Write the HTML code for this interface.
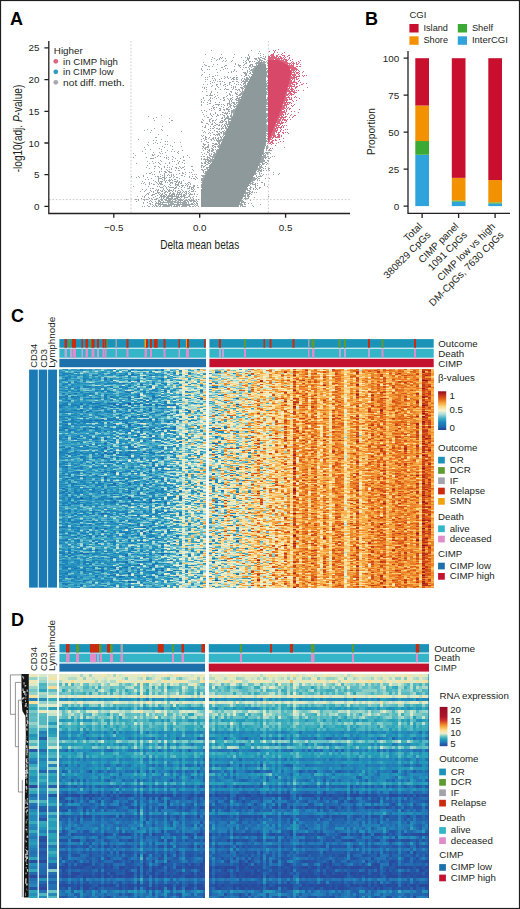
<!DOCTYPE html>
<html><head><meta charset="utf-8"><style>
html,body{margin:0;padding:0;background:#fff;}
svg{display:block;font-family:"Liberation Sans", sans-serif;}
</style></head><body>
<svg width="520" height="909" viewBox="0 0 520 909">
<rect width="520" height="909" fill="#fff"/>
<text x="10" y="25" font-size="18" font-weight="bold" fill="#000">A</text>
<g stroke="#c4c4c4" stroke-width="0.9" stroke-dasharray="1.6 1.8" fill="none"><path d="M131 41V213M268.4 41V213M49 199.6H350"/></g>
<path fill="#8e999b" d="M261 61h1v1h-1zM260 62h2v1h-2zM259 63h2v1h-2zM258 64h7v1h-7zM257 65h9v1h-9zM257 66h9v1h-9zM256 67h10v1h-10zM255 68h11v1h-11zM255 69h11v1h-11zM254 70h12v1h-12zM254 71h12v1h-12zM253 72h13v1h-13zM253 73h13v1h-13zM252 74h14v1h-14zM252 75h14v1h-14zM251 76h15v1h-15zM251 77h15v1h-15zM250 78h16v1h-16zM250 79h16v1h-16zM249 80h17v1h-17zM249 81h17v1h-17zM248 82h18v1h-18zM248 83h18v1h-18zM247 84h19v1h-19zM247 85h19v1h-19zM246 86h20v1h-20zM246 87h20v1h-20zM245 88h21v1h-21zM245 89h21v1h-21zM245 90h21v1h-21zM244 91h22v1h-22zM244 92h22v1h-22zM243 93h23v1h-23zM243 94h23v1h-23zM242 95h24v1h-24zM242 96h24v1h-24zM241 97h25v1h-25zM241 98h25v1h-25zM240 99h26v1h-26zM240 100h26v1h-26zM240 101h26v1h-26zM239 102h27v1h-27zM239 103h27v1h-27zM238 104h28v1h-28zM238 105h28v1h-28zM237 106h29v1h-29zM237 107h29v1h-29zM236 108h30v1h-30zM236 109h30v1h-30zM235 110h31v1h-31zM235 111h31v1h-31zM235 112h31v1h-31zM234 113h32v1h-32zM234 114h32v1h-32zM233 115h33v1h-33zM233 116h33v1h-33zM232 117h34v1h-34zM232 118h34v1h-34zM231 119h35v1h-35zM231 120h35v1h-35zM231 121h35v1h-35zM230 122h36v1h-36zM230 123h36v1h-36zM229 124h37v1h-37zM229 125h37v1h-37zM228 126h38v1h-38zM228 127h38v1h-38zM228 128h38v1h-38zM227 129h39v1h-39zM227 130h39v1h-39zM226 131h40v1h-40zM226 132h40v1h-40zM226 133h40v1h-40zM225 134h41v1h-41zM225 135h41v1h-41zM224 136h42v1h-42zM224 137h42v1h-42zM223 138h43v1h-43zM223 139h43v1h-43zM223 140h43v1h-43zM222 141h44v1h-44zM222 142h44v1h-44zM221 143h44v1h-44zM221 144h44v1h-44zM221 145h44v1h-44zM220 146h45v1h-45zM220 147h44v1h-44zM219 148h45v1h-45zM219 149h45v1h-45zM218 150h46v1h-46zM218 151h45v1h-45zM217 152h46v1h-46zM217 153h46v1h-46zM216 154h46v1h-46zM216 155h46v1h-46zM215 156h47v1h-47zM215 157h46v1h-46zM214 158h47v1h-47zM213 159h48v1h-48zM213 160h47v1h-47zM212 161h48v1h-48zM212 162h48v1h-48zM211 163h48v1h-48zM211 164h48v1h-48zM210 165h49v1h-49zM210 166h48v1h-48zM209 167h49v1h-49zM209 168h48v1h-48zM208 169h49v1h-49zM208 170h48v1h-48zM207 171h49v1h-49zM207 172h48v1h-48zM206 173h49v1h-49zM206 174h48v1h-48zM205 175h49v1h-49zM205 176h48v1h-48zM205 177h48v1h-48zM204 178h48v1h-48zM204 179h48v1h-48zM203 180h48v1h-48zM203 181h48v1h-48zM203 182h47v1h-47zM203 183h47v1h-47zM202 184h47v1h-47zM202 185h47v1h-47zM202 186h46v1h-46zM202 187h45v1h-45zM202 188h45v1h-45zM201 189h45v1h-45zM201 190h45v1h-45zM201 191h44v1h-44zM201 192h44v1h-44zM201 193h43v1h-43zM201 194h43v1h-43zM201 195h42v1h-42zM201 196h42v1h-42zM201 197h41v1h-41zM201 198h41v1h-41zM201 199h40v1h-40zM201 200h40v1h-40zM201 201h39v1h-39zM201 202h39v1h-39zM201 203h38v1h-38zM201 204h38v1h-38zM201 205h37v1h-37zM201 206h37v1h-37z"/>
<path fill="#8e999b" fill-opacity="0.88" d="M211 50h1v1h-1zM251 50h1v1h-1zM259 51h1v1h-1zM258 53h1v1h-1zM260 53h1v1h-1zM205 54h1v1h-1zM221 54h1v1h-1zM234 54h1v1h-1zM248 54h1v1h-1zM263 54h1v1h-1zM248 55h1v1h-1zM260 55h1v1h-1zM249 56h1v1h-1zM263 56h1v1h-1zM265 56h1v1h-1zM212 57h1v1h-1zM220 57h1v1h-1zM222 57h1v1h-1zM233 57h1v1h-1zM241 57h1v1h-1zM245 57h1v1h-1zM247 57h1v1h-1zM249 57h1v1h-1zM258 57h1v1h-1zM260 57h2v1h-2zM265 57h1v1h-1zM214 58h1v1h-1zM219 58h1v1h-1zM221 58h1v1h-1zM225 58h1v1h-1zM247 58h3v1h-3zM254 58h3v1h-3zM258 58h2v1h-2zM262 58h3v1h-3zM211 59h1v1h-1zM217 59h1v1h-1zM219 59h1v1h-1zM247 59h2v1h-2zM255 59h2v1h-2zM259 59h2v1h-2zM264 59h2v1h-2zM216 60h1v1h-1zM223 60h1v1h-1zM226 60h1v1h-1zM232 60h1v1h-1zM243 60h1v1h-1zM246 60h1v1h-1zM248 60h1v1h-1zM257 60h1v1h-1zM259 60h4v1h-4zM267 60h1v1h-1zM211 61h1v1h-1zM222 61h1v1h-1zM225 61h1v1h-1zM231 61h1v1h-1zM245 61h1v1h-1zM249 61h2v1h-2zM252 61h1v1h-1zM254 61h1v1h-1zM258 61h2v1h-2zM263 61h2v1h-2zM266 61h1v1h-1zM203 62h1v1h-1zM243 62h1v1h-1zM246 62h1v1h-1zM249 62h1v1h-1zM256 62h4v1h-4zM262 62h4v1h-4zM267 62h1v1h-1zM235 63h1v1h-1zM245 63h2v1h-2zM255 63h4v1h-4zM261 63h4v1h-4zM267 63h1v1h-1zM204 64h1v1h-1zM213 64h1v1h-1zM217 64h1v1h-1zM235 64h1v1h-1zM238 64h1v1h-1zM244 64h1v1h-1zM250 64h3v1h-3zM256 64h1v1h-1zM265 64h1v1h-1zM205 65h2v1h-2zM225 65h2v1h-2zM238 65h3v1h-3zM243 65h1v1h-1zM249 65h2v1h-2zM252 65h1v1h-1zM256 65h1v1h-1zM267 65h1v1h-1zM202 66h1v1h-1zM208 66h2v1h-2zM212 66h1v1h-1zM224 66h1v1h-1zM234 66h1v1h-1zM239 66h1v1h-1zM249 66h2v1h-2zM252 66h5v1h-5zM221 67h2v1h-2zM240 67h1v1h-1zM243 67h1v1h-1zM245 67h2v1h-2zM248 67h1v1h-1zM251 67h1v1h-1zM254 67h2v1h-2zM201 68h1v1h-1zM225 68h1v1h-1zM227 68h1v1h-1zM249 68h1v1h-1zM253 68h2v1h-2zM266 68h2v1h-2zM201 69h1v1h-1zM207 69h1v1h-1zM209 69h1v1h-1zM216 69h1v1h-1zM223 69h1v1h-1zM234 69h1v1h-1zM242 69h1v1h-1zM249 69h1v1h-1zM251 69h4v1h-4zM266 69h1v1h-1zM202 70h1v1h-1zM220 70h1v1h-1zM234 70h1v1h-1zM247 70h1v1h-1zM250 70h4v1h-4zM267 70h1v1h-1zM231 71h1v1h-1zM233 71h1v1h-1zM236 71h1v1h-1zM247 71h1v1h-1zM249 71h1v1h-1zM252 71h2v1h-2zM266 71h2v1h-2zM204 72h1v1h-1zM217 72h1v1h-1zM228 72h1v1h-1zM231 72h1v1h-1zM243 72h3v1h-3zM247 72h1v1h-1zM250 72h1v1h-1zM252 72h1v1h-1zM266 72h2v1h-2zM244 73h3v1h-3zM249 73h2v1h-2zM266 73h1v1h-1zM202 74h1v1h-1zM209 74h1v1h-1zM245 74h2v1h-2zM251 74h1v1h-1zM266 74h1v1h-1zM201 75h1v1h-1zM215 75h1v1h-1zM217 75h1v1h-1zM236 75h1v1h-1zM241 75h1v1h-1zM245 75h2v1h-2zM248 75h1v1h-1zM266 75h2v1h-2zM209 76h1v1h-1zM212 76h2v1h-2zM224 76h1v1h-1zM227 76h1v1h-1zM244 76h1v1h-1zM249 76h1v1h-1zM266 76h2v1h-2zM205 77h1v1h-1zM207 77h1v1h-1zM225 77h1v1h-1zM227 77h1v1h-1zM230 77h1v1h-1zM233 77h2v1h-2zM236 77h2v1h-2zM246 77h2v1h-2zM249 77h2v1h-2zM267 77h1v1h-1zM212 78h1v1h-1zM214 78h1v1h-1zM221 78h1v1h-1zM224 78h1v1h-1zM228 78h1v1h-1zM232 78h2v1h-2zM236 78h1v1h-1zM242 78h1v1h-1zM244 78h1v1h-1zM246 78h3v1h-3zM205 79h1v1h-1zM207 79h1v1h-1zM215 79h1v1h-1zM219 79h1v1h-1zM231 79h1v1h-1zM233 79h2v1h-2zM236 79h2v1h-2zM241 79h1v1h-1zM244 79h6v1h-6zM213 80h1v1h-1zM215 80h1v1h-1zM241 80h1v1h-1zM243 80h1v1h-1zM245 80h3v1h-3zM267 80h1v1h-1zM205 81h1v1h-1zM210 81h1v1h-1zM217 81h1v1h-1zM219 81h2v1h-2zM222 81h1v1h-1zM232 81h2v1h-2zM236 81h2v1h-2zM242 81h7v1h-7zM266 81h1v1h-1zM212 82h1v1h-1zM214 82h1v1h-1zM224 82h1v1h-1zM229 82h2v1h-2zM238 82h1v1h-1zM241 82h1v1h-1zM244 82h2v1h-2zM267 82h1v1h-1zM210 83h1v1h-1zM220 83h1v1h-1zM229 83h1v1h-1zM234 83h1v1h-1zM243 83h3v1h-3zM247 83h1v1h-1zM266 83h2v1h-2zM203 84h1v1h-1zM207 84h1v1h-1zM216 84h2v1h-2zM220 84h1v1h-1zM224 84h2v1h-2zM229 84h1v1h-1zM236 84h1v1h-1zM238 84h1v1h-1zM240 84h1v1h-1zM243 84h1v1h-1zM245 84h1v1h-1zM266 84h1v1h-1zM212 85h1v1h-1zM216 85h1v1h-1zM223 85h1v1h-1zM227 85h1v1h-1zM231 85h1v1h-1zM241 85h1v1h-1zM244 85h3v1h-3zM266 85h2v1h-2zM211 86h1v1h-1zM217 86h1v1h-1zM225 86h1v1h-1zM233 86h1v1h-1zM235 86h1v1h-1zM243 86h3v1h-3zM266 86h2v1h-2zM202 87h1v1h-1zM204 87h1v1h-1zM206 87h1v1h-1zM218 87h1v1h-1zM231 87h1v1h-1zM233 87h1v1h-1zM235 87h1v1h-1zM240 87h3v1h-3zM244 87h2v1h-2zM267 87h1v1h-1zM204 88h1v1h-1zM215 88h1v1h-1zM225 88h1v1h-1zM233 88h1v1h-1zM241 88h3v1h-3zM266 88h2v1h-2zM206 89h1v1h-1zM215 89h1v1h-1zM220 89h1v1h-1zM224 89h1v1h-1zM226 89h3v1h-3zM232 89h1v1h-1zM235 89h2v1h-2zM238 89h2v1h-2zM242 89h1v1h-1zM244 89h1v1h-1zM266 89h2v1h-2zM237 90h1v1h-1zM239 90h1v1h-1zM242 90h1v1h-1zM244 90h1v1h-1zM267 90h1v1h-1zM202 91h1v1h-1zM206 91h1v1h-1zM211 91h1v1h-1zM230 91h2v1h-2zM240 91h1v1h-1zM242 91h2v1h-2zM266 91h1v1h-1zM211 92h1v1h-1zM217 92h1v1h-1zM226 92h1v1h-1zM231 92h1v1h-1zM235 92h1v1h-1zM237 92h1v1h-1zM241 92h3v1h-3zM266 92h2v1h-2zM210 93h1v1h-1zM229 93h1v1h-1zM235 93h2v1h-2zM240 93h3v1h-3zM266 93h1v1h-1zM210 94h1v1h-1zM214 94h1v1h-1zM229 94h2v1h-2zM236 94h2v1h-2zM239 94h4v1h-4zM266 94h2v1h-2zM206 95h2v1h-2zM209 95h4v1h-4zM217 95h1v1h-1zM227 95h1v1h-1zM230 95h1v1h-1zM232 95h1v1h-1zM238 95h3v1h-3zM215 96h1v1h-1zM226 96h1v1h-1zM236 96h2v1h-2zM241 96h1v1h-1zM203 97h1v1h-1zM210 97h1v1h-1zM214 97h1v1h-1zM218 97h1v1h-1zM223 97h2v1h-2zM232 97h1v1h-1zM237 97h1v1h-1zM239 97h2v1h-2zM267 97h1v1h-1zM203 98h1v1h-1zM210 98h1v1h-1zM212 98h1v1h-1zM216 98h1v1h-1zM223 98h1v1h-1zM227 98h1v1h-1zM230 98h2v1h-2zM236 98h4v1h-4zM267 98h1v1h-1zM201 99h1v1h-1zM209 99h1v1h-1zM220 99h1v1h-1zM224 99h1v1h-1zM228 99h1v1h-1zM230 99h1v1h-1zM232 99h1v1h-1zM235 99h2v1h-2zM238 99h2v1h-2zM266 99h2v1h-2zM204 100h1v1h-1zM208 100h1v1h-1zM210 100h1v1h-1zM223 100h2v1h-2zM229 100h1v1h-1zM231 100h1v1h-1zM236 100h4v1h-4zM266 100h2v1h-2zM201 101h1v1h-1zM210 101h1v1h-1zM229 101h1v1h-1zM231 101h1v1h-1zM238 101h2v1h-2zM266 101h1v1h-1zM201 102h1v1h-1zM203 102h1v1h-1zM207 102h1v1h-1zM215 102h1v1h-1zM219 102h1v1h-1zM229 102h1v1h-1zM232 102h3v1h-3zM236 102h3v1h-3zM266 102h2v1h-2zM209 103h2v1h-2zM227 103h3v1h-3zM231 103h1v1h-1zM233 103h2v1h-2zM236 103h1v1h-1zM238 103h1v1h-1zM266 103h2v1h-2zM201 104h1v1h-1zM207 104h1v1h-1zM215 104h5v1h-5zM221 104h1v1h-1zM223 104h1v1h-1zM227 104h1v1h-1zM229 104h2v1h-2zM234 104h2v1h-2zM237 104h1v1h-1zM266 104h2v1h-2zM201 105h1v1h-1zM213 105h1v1h-1zM218 105h1v1h-1zM224 105h1v1h-1zM227 105h1v1h-1zM230 105h2v1h-2zM233 105h1v1h-1zM236 105h2v1h-2zM212 106h1v1h-1zM221 106h1v1h-1zM229 106h2v1h-2zM233 106h4v1h-4zM266 106h2v1h-2zM213 107h2v1h-2zM216 107h1v1h-1zM223 107h1v1h-1zM228 107h1v1h-1zM230 107h1v1h-1zM234 107h1v1h-1zM236 107h1v1h-1zM211 108h1v1h-1zM213 108h1v1h-1zM219 108h2v1h-2zM226 108h2v1h-2zM231 108h1v1h-1zM235 108h1v1h-1zM266 108h2v1h-2zM209 109h1v1h-1zM214 109h1v1h-1zM220 109h1v1h-1zM223 109h2v1h-2zM226 109h4v1h-4zM233 109h3v1h-3zM266 109h2v1h-2zM201 110h1v1h-1zM204 110h1v1h-1zM211 110h1v1h-1zM219 110h2v1h-2zM224 110h1v1h-1zM228 110h1v1h-1zM231 110h4v1h-4zM266 110h2v1h-2zM206 111h1v1h-1zM228 111h2v1h-2zM231 111h4v1h-4zM202 112h1v1h-1zM215 112h1v1h-1zM222 112h2v1h-2zM225 112h1v1h-1zM227 112h1v1h-1zM231 112h4v1h-4zM210 113h1v1h-1zM215 113h1v1h-1zM224 113h4v1h-4zM229 113h1v1h-1zM231 113h1v1h-1zM233 113h1v1h-1zM266 113h2v1h-2zM203 114h1v1h-1zM210 114h1v1h-1zM213 114h1v1h-1zM217 114h1v1h-1zM220 114h1v1h-1zM222 114h1v1h-1zM226 114h1v1h-1zM231 114h1v1h-1zM233 114h1v1h-1zM266 114h2v1h-2zM161 115h1v1h-1zM206 115h1v1h-1zM211 115h1v1h-1zM217 115h2v1h-2zM223 115h2v1h-2zM227 115h1v1h-1zM230 115h2v1h-2zM266 115h2v1h-2zM148 116h1v1h-1zM204 116h1v1h-1zM212 116h1v1h-1zM216 116h1v1h-1zM224 116h1v1h-1zM227 116h2v1h-2zM230 116h3v1h-3zM266 116h2v1h-2zM156 117h1v1h-1zM207 117h2v1h-2zM222 117h1v1h-1zM224 117h1v1h-1zM226 117h3v1h-3zM231 117h1v1h-1zM266 117h1v1h-1zM153 118h1v1h-1zM169 118h1v1h-1zM211 118h1v1h-1zM221 118h2v1h-2zM225 118h7v1h-7zM267 118h1v1h-1zM202 119h1v1h-1zM209 119h2v1h-2zM216 119h1v1h-1zM224 119h2v1h-2zM228 119h3v1h-3zM266 119h2v1h-2zM154 120h1v1h-1zM171 120h2v1h-2zM203 120h1v1h-1zM209 120h1v1h-1zM212 120h2v1h-2zM215 120h1v1h-1zM221 120h2v1h-2zM224 120h1v1h-1zM228 120h1v1h-1zM266 120h2v1h-2zM201 121h1v1h-1zM209 121h1v1h-1zM212 121h1v1h-1zM220 121h1v1h-1zM222 121h2v1h-2zM225 121h2v1h-2zM228 121h3v1h-3zM266 121h2v1h-2zM169 122h1v1h-1zM201 122h2v1h-2zM210 122h1v1h-1zM214 122h1v1h-1zM219 122h4v1h-4zM226 122h1v1h-1zM228 122h2v1h-2zM266 122h1v1h-1zM206 123h2v1h-2zM212 123h1v1h-1zM215 123h1v1h-1zM225 123h2v1h-2zM228 123h2v1h-2zM208 124h1v1h-1zM211 124h2v1h-2zM216 124h2v1h-2zM219 124h1v1h-1zM222 124h1v1h-1zM224 124h1v1h-1zM226 124h3v1h-3zM266 124h1v1h-1zM205 125h1v1h-1zM214 125h2v1h-2zM218 125h2v1h-2zM221 125h1v1h-1zM224 125h2v1h-2zM227 125h1v1h-1zM266 125h2v1h-2zM162 126h1v1h-1zM202 126h1v1h-1zM205 126h1v1h-1zM210 126h1v1h-1zM213 126h1v1h-1zM221 126h1v1h-1zM223 126h1v1h-1zM225 126h1v1h-1zM227 126h1v1h-1zM266 126h2v1h-2zM204 127h2v1h-2zM214 127h1v1h-1zM222 127h1v1h-1zM225 127h2v1h-2zM266 127h2v1h-2zM154 128h1v1h-1zM210 128h1v1h-1zM212 128h2v1h-2zM216 128h2v1h-2zM219 128h1v1h-1zM221 128h3v1h-3zM225 128h3v1h-3zM266 128h2v1h-2zM147 129h1v1h-1zM161 129h1v1h-1zM208 129h1v1h-1zM218 129h2v1h-2zM221 129h1v1h-1zM226 129h1v1h-1zM266 129h2v1h-2zM144 130h1v1h-1zM151 130h1v1h-1zM162 130h1v1h-1zM202 130h1v1h-1zM210 130h1v1h-1zM214 130h1v1h-1zM224 130h1v1h-1zM226 130h1v1h-1zM266 130h2v1h-2zM181 131h1v1h-1zM204 131h1v1h-1zM216 131h2v1h-2zM219 131h1v1h-1zM222 131h2v1h-2zM225 131h1v1h-1zM266 131h2v1h-2zM150 132h1v1h-1zM203 132h1v1h-1zM205 132h1v1h-1zM209 132h1v1h-1zM212 132h1v1h-1zM217 132h1v1h-1zM220 132h2v1h-2zM223 132h3v1h-3zM208 133h1v1h-1zM210 133h1v1h-1zM218 133h2v1h-2zM221 133h1v1h-1zM223 133h3v1h-3zM266 133h2v1h-2zM158 134h1v1h-1zM213 134h2v1h-2zM216 134h4v1h-4zM223 134h2v1h-2zM267 134h1v1h-1zM167 135h1v1h-1zM201 135h1v1h-1zM203 135h1v1h-1zM210 135h1v1h-1zM215 135h1v1h-1zM217 135h1v1h-1zM219 135h1v1h-1zM223 135h1v1h-1zM266 135h1v1h-1zM202 136h1v1h-1zM205 136h1v1h-1zM220 136h1v1h-1zM222 136h1v1h-1zM267 136h1v1h-1zM155 137h2v1h-2zM205 137h2v1h-2zM209 137h1v1h-1zM213 137h1v1h-1zM215 137h1v1h-1zM218 137h1v1h-1zM220 137h2v1h-2zM223 137h1v1h-1zM203 138h1v1h-1zM205 138h1v1h-1zM208 138h1v1h-1zM212 138h2v1h-2zM215 138h1v1h-1zM217 138h2v1h-2zM221 138h1v1h-1zM266 138h2v1h-2zM138 139h1v1h-1zM161 139h1v1h-1zM201 139h1v1h-1zM205 139h2v1h-2zM210 139h2v1h-2zM213 139h1v1h-1zM216 139h1v1h-1zM218 139h1v1h-1zM220 139h3v1h-3zM267 139h1v1h-1zM153 140h1v1h-1zM156 140h1v1h-1zM204 140h1v1h-1zM211 140h1v1h-1zM214 140h1v1h-1zM216 140h7v1h-7zM266 140h1v1h-1zM165 141h1v1h-1zM167 141h1v1h-1zM201 141h1v1h-1zM206 141h1v1h-1zM217 141h4v1h-4zM266 141h2v1h-2zM148 142h1v1h-1zM155 142h1v1h-1zM160 142h1v1h-1zM174 142h1v1h-1zM180 142h1v1h-1zM207 142h2v1h-2zM218 142h2v1h-2zM221 142h1v1h-1zM153 143h1v1h-1zM157 143h1v1h-1zM203 143h1v1h-1zM212 143h2v1h-2zM215 143h2v1h-2zM218 143h2v1h-2zM265 143h1v1h-1zM267 143h1v1h-1zM147 144h1v1h-1zM165 144h1v1h-1zM167 144h1v1h-1zM203 144h3v1h-3zM208 144h1v1h-1zM214 144h4v1h-4zM219 144h2v1h-2zM265 144h1v1h-1zM148 145h1v1h-1zM170 145h1v1h-1zM204 145h1v1h-1zM208 145h1v1h-1zM212 145h2v1h-2zM218 145h3v1h-3zM265 145h1v1h-1zM267 145h1v1h-1zM162 146h1v1h-1zM172 146h1v1h-1zM181 146h1v1h-1zM202 146h2v1h-2zM207 146h2v1h-2zM212 146h1v1h-1zM214 146h2v1h-2zM217 146h3v1h-3zM266 146h2v1h-2zM144 147h1v1h-1zM164 147h1v1h-1zM203 147h1v1h-1zM205 147h4v1h-4zM213 147h1v1h-1zM215 147h1v1h-1zM218 147h2v1h-2zM264 147h1v1h-1zM266 147h2v1h-2zM284 147h1v1h-1zM159 148h1v1h-1zM202 148h1v1h-1zM204 148h2v1h-2zM211 148h2v1h-2zM264 148h1v1h-1zM266 148h2v1h-2zM145 149h1v1h-1zM150 149h1v1h-1zM161 149h1v1h-1zM172 149h1v1h-1zM205 149h1v1h-1zM207 149h1v1h-1zM209 149h1v1h-1zM212 149h2v1h-2zM215 149h1v1h-1zM217 149h2v1h-2zM266 149h1v1h-1zM167 150h1v1h-1zM182 150h1v1h-1zM203 150h1v1h-1zM208 150h2v1h-2zM211 150h3v1h-3zM216 150h2v1h-2zM266 150h1v1h-1zM268 150h4v1h-4zM142 151h1v1h-1zM161 151h1v1h-1zM171 151h1v1h-1zM174 151h1v1h-1zM178 151h1v1h-1zM207 151h1v1h-1zM209 151h1v1h-1zM211 151h2v1h-2zM216 151h2v1h-2zM263 151h1v1h-1zM153 152h1v1h-1zM159 152h1v1h-1zM165 152h1v1h-1zM177 152h1v1h-1zM201 152h1v1h-1zM207 152h2v1h-2zM213 152h2v1h-2zM216 152h1v1h-1zM263 152h1v1h-1zM265 152h5v1h-5zM133 153h1v1h-1zM145 153h1v1h-1zM160 153h1v1h-1zM162 153h1v1h-1zM178 153h1v1h-1zM204 153h1v1h-1zM209 153h1v1h-1zM211 153h1v1h-1zM214 153h3v1h-3zM263 153h2v1h-2zM266 153h2v1h-2zM270 153h1v1h-1zM152 154h1v1h-1zM154 154h1v1h-1zM202 154h1v1h-1zM206 154h1v1h-1zM209 154h1v1h-1zM211 154h1v1h-1zM213 154h3v1h-3zM262 154h2v1h-2zM265 154h1v1h-1zM267 154h1v1h-1zM135 155h1v1h-1zM152 155h2v1h-2zM158 155h1v1h-1zM166 155h1v1h-1zM187 155h1v1h-1zM209 155h2v1h-2zM213 155h3v1h-3zM263 155h3v1h-3zM157 156h1v1h-1zM160 156h1v1h-1zM172 156h1v1h-1zM183 156h1v1h-1zM201 156h1v1h-1zM203 156h2v1h-2zM207 156h1v1h-1zM210 156h5v1h-5zM262 156h4v1h-4zM267 156h2v1h-2zM272 156h1v1h-1zM274 156h1v1h-1zM133 157h1v1h-1zM146 157h1v1h-1zM155 157h1v1h-1zM164 157h1v1h-1zM166 157h1v1h-1zM168 157h1v1h-1zM173 157h1v1h-1zM183 157h1v1h-1zM189 157h1v1h-1zM207 157h3v1h-3zM212 157h3v1h-3zM261 157h6v1h-6zM270 157h1v1h-1zM150 158h4v1h-4zM166 158h1v1h-1zM175 158h1v1h-1zM180 158h1v1h-1zM201 158h1v1h-1zM204 158h1v1h-1zM207 158h1v1h-1zM209 158h2v1h-2zM212 158h1v1h-1zM261 158h3v1h-3zM265 158h1v1h-1zM268 158h2v1h-2zM168 159h1v1h-1zM172 159h1v1h-1zM201 159h1v1h-1zM203 159h6v1h-6zM210 159h3v1h-3zM261 159h3v1h-3zM160 160h1v1h-1zM177 160h1v1h-1zM183 160h2v1h-2zM205 160h1v1h-1zM207 160h6v1h-6zM260 160h5v1h-5zM267 160h2v1h-2zM147 161h1v1h-1zM152 161h1v1h-1zM161 161h1v1h-1zM172 161h1v1h-1zM174 161h1v1h-1zM179 161h1v1h-1zM205 161h2v1h-2zM208 161h4v1h-4zM260 161h5v1h-5zM268 161h1v1h-1zM155 162h1v1h-1zM158 162h1v1h-1zM169 162h1v1h-1zM178 162h1v1h-1zM182 162h1v1h-1zM201 162h1v1h-1zM204 162h2v1h-2zM207 162h2v1h-2zM210 162h1v1h-1zM260 162h3v1h-3zM265 162h2v1h-2zM136 163h1v1h-1zM149 163h1v1h-1zM153 163h1v1h-1zM159 163h1v1h-1zM165 163h1v1h-1zM169 163h1v1h-1zM178 163h1v1h-1zM184 163h1v1h-1zM201 163h2v1h-2zM204 163h2v1h-2zM208 163h2v1h-2zM259 163h1v1h-1zM262 163h3v1h-3zM267 163h1v1h-1zM160 164h1v1h-1zM176 164h1v1h-1zM206 164h2v1h-2zM210 164h1v1h-1zM259 164h2v1h-2zM262 164h2v1h-2zM266 164h1v1h-1zM147 165h1v1h-1zM167 165h1v1h-1zM201 165h2v1h-2zM205 165h1v1h-1zM209 165h1v1h-1zM259 165h1v1h-1zM261 165h1v1h-1zM154 166h2v1h-2zM158 166h1v1h-1zM164 166h1v1h-1zM172 166h1v1h-1zM179 166h1v1h-1zM184 166h1v1h-1zM191 166h2v1h-2zM201 166h1v1h-1zM203 166h2v1h-2zM209 166h1v1h-1zM259 166h3v1h-3zM265 166h1v1h-1zM146 167h1v1h-1zM159 167h1v1h-1zM164 167h1v1h-1zM167 167h1v1h-1zM169 167h1v1h-1zM175 167h2v1h-2zM180 167h1v1h-1zM182 167h2v1h-2zM201 167h1v1h-1zM203 167h1v1h-1zM206 167h3v1h-3zM259 167h4v1h-4zM149 168h1v1h-1zM154 168h1v1h-1zM161 168h1v1h-1zM171 168h1v1h-1zM176 168h1v1h-1zM178 168h1v1h-1zM181 168h1v1h-1zM206 168h2v1h-2zM257 168h4v1h-4zM263 168h1v1h-1zM265 168h1v1h-1zM268 168h2v1h-2zM161 169h1v1h-1zM166 169h1v1h-1zM169 169h1v1h-1zM171 169h1v1h-1zM184 169h1v1h-1zM192 169h1v1h-1zM201 169h2v1h-2zM204 169h2v1h-2zM207 169h1v1h-1zM257 169h3v1h-3zM261 169h1v1h-1zM268 169h1v1h-1zM167 170h1v1h-1zM175 170h1v1h-1zM178 170h2v1h-2zM193 170h1v1h-1zM202 170h2v1h-2zM207 170h1v1h-1zM256 170h1v1h-1zM258 170h4v1h-4zM263 170h1v1h-1zM266 170h1v1h-1zM269 170h1v1h-1zM154 171h1v1h-1zM159 171h1v1h-1zM161 171h1v1h-1zM164 171h2v1h-2zM168 171h2v1h-2zM203 171h1v1h-1zM205 171h2v1h-2zM257 171h2v1h-2zM260 171h2v1h-2zM151 172h1v1h-1zM159 172h1v1h-1zM165 172h2v1h-2zM169 172h3v1h-3zM182 172h1v1h-1zM185 172h1v1h-1zM189 172h1v1h-1zM191 172h1v1h-1zM203 172h1v1h-1zM205 172h2v1h-2zM255 172h1v1h-1zM259 172h1v1h-1zM273 172h1v1h-1zM146 173h1v1h-1zM149 173h2v1h-2zM164 173h1v1h-1zM179 173h1v1h-1zM182 173h2v1h-2zM204 173h2v1h-2zM255 173h2v1h-2zM259 173h1v1h-1zM261 173h1v1h-1zM279 173h1v1h-1zM152 174h1v1h-1zM154 174h1v1h-1zM160 174h1v1h-1zM164 174h1v1h-1zM168 174h1v1h-1zM171 174h1v1h-1zM173 174h1v1h-1zM176 174h1v1h-1zM185 174h1v1h-1zM192 174h1v1h-1zM194 174h1v1h-1zM196 174h1v1h-1zM205 174h1v1h-1zM254 174h2v1h-2zM259 174h1v1h-1zM263 174h1v1h-1zM266 174h1v1h-1zM273 174h1v1h-1zM278 174h1v1h-1zM143 175h1v1h-1zM162 175h1v1h-1zM164 175h1v1h-1zM167 175h1v1h-1zM169 175h1v1h-1zM171 175h1v1h-1zM173 175h1v1h-1zM181 175h2v1h-2zM201 175h4v1h-4zM256 175h1v1h-1zM260 175h1v1h-1zM262 175h1v1h-1zM131 176h1v1h-1zM138 176h1v1h-1zM143 176h1v1h-1zM155 176h1v1h-1zM157 176h2v1h-2zM160 176h1v1h-1zM164 176h1v1h-1zM171 176h1v1h-1zM174 176h1v1h-1zM184 176h1v1h-1zM189 176h1v1h-1zM192 176h1v1h-1zM195 176h1v1h-1zM202 176h3v1h-3zM256 176h1v1h-1zM258 176h4v1h-4zM136 177h1v1h-1zM139 177h1v1h-1zM147 177h1v1h-1zM158 177h1v1h-1zM162 177h3v1h-3zM166 177h1v1h-1zM169 177h2v1h-2zM173 177h1v1h-1zM176 177h2v1h-2zM189 177h1v1h-1zM196 177h1v1h-1zM203 177h2v1h-2zM253 177h2v1h-2zM257 177h1v1h-1zM151 178h1v1h-1zM158 178h4v1h-4zM164 178h2v1h-2zM179 178h1v1h-1zM191 178h1v1h-1zM193 178h2v1h-2zM197 178h1v1h-1zM201 178h3v1h-3zM252 178h5v1h-5zM258 178h2v1h-2zM265 178h1v1h-1zM269 178h1v1h-1zM145 179h1v1h-1zM148 179h1v1h-1zM158 179h1v1h-1zM162 179h1v1h-1zM164 179h1v1h-1zM169 179h1v1h-1zM171 179h1v1h-1zM174 179h2v1h-2zM195 179h1v1h-1zM201 179h3v1h-3zM252 179h4v1h-4zM257 179h1v1h-1zM153 180h1v1h-1zM158 180h1v1h-1zM164 180h1v1h-1zM166 180h1v1h-1zM168 180h3v1h-3zM172 180h1v1h-1zM177 180h1v1h-1zM183 180h1v1h-1zM201 180h2v1h-2zM251 180h4v1h-4zM257 180h1v1h-1zM259 180h1v1h-1zM142 181h1v1h-1zM155 181h1v1h-1zM158 181h1v1h-1zM160 181h3v1h-3zM165 181h1v1h-1zM169 181h1v1h-1zM174 181h4v1h-4zM179 181h1v1h-1zM181 181h1v1h-1zM202 181h1v1h-1zM251 181h2v1h-2zM144 182h1v1h-1zM149 182h1v1h-1zM156 182h1v1h-1zM159 182h1v1h-1zM161 182h1v1h-1zM165 182h1v1h-1zM167 182h1v1h-1zM170 182h3v1h-3zM176 182h1v1h-1zM178 182h2v1h-2zM181 182h1v1h-1zM188 182h2v1h-2zM201 182h2v1h-2zM250 182h1v1h-1zM252 182h2v1h-2zM261 182h2v1h-2zM141 183h1v1h-1zM143 183h1v1h-1zM149 183h1v1h-1zM151 183h1v1h-1zM157 183h1v1h-1zM159 183h3v1h-3zM170 183h1v1h-1zM172 183h1v1h-1zM175 183h1v1h-1zM178 183h1v1h-1zM180 183h2v1h-2zM185 183h1v1h-1zM187 183h1v1h-1zM190 183h1v1h-1zM202 183h1v1h-1zM250 183h3v1h-3zM255 183h1v1h-1zM257 183h1v1h-1zM264 183h1v1h-1zM145 184h1v1h-1zM149 184h1v1h-1zM153 184h2v1h-2zM158 184h1v1h-1zM160 184h3v1h-3zM169 184h1v1h-1zM175 184h4v1h-4zM186 184h1v1h-1zM188 184h1v1h-1zM190 184h1v1h-1zM201 184h1v1h-1zM250 184h1v1h-1zM252 184h4v1h-4zM264 184h1v1h-1zM164 185h1v1h-1zM170 185h1v1h-1zM175 185h1v1h-1zM177 185h2v1h-2zM181 185h3v1h-3zM185 185h1v1h-1zM187 185h1v1h-1zM193 185h2v1h-2zM197 185h1v1h-1zM201 185h1v1h-1zM249 185h1v1h-1zM255 185h1v1h-1zM257 185h1v1h-1zM264 185h1v1h-1zM133 186h1v1h-1zM148 186h1v1h-1zM157 186h1v1h-1zM159 186h1v1h-1zM163 186h1v1h-1zM165 186h1v1h-1zM168 186h1v1h-1zM176 186h1v1h-1zM179 186h1v1h-1zM182 186h1v1h-1zM187 186h1v1h-1zM189 186h2v1h-2zM193 186h2v1h-2zM201 186h1v1h-1zM250 186h1v1h-1zM255 186h1v1h-1zM267 186h1v1h-1zM160 187h3v1h-3zM166 187h1v1h-1zM169 187h5v1h-5zM175 187h2v1h-2zM181 187h1v1h-1zM184 187h1v1h-1zM189 187h1v1h-1zM191 187h3v1h-3zM197 187h2v1h-2zM201 187h1v1h-1zM250 187h2v1h-2zM255 187h1v1h-1zM259 187h2v1h-2zM150 188h1v1h-1zM152 188h2v1h-2zM163 188h1v1h-1zM166 188h1v1h-1zM174 188h2v1h-2zM178 188h1v1h-1zM187 188h3v1h-3zM191 188h1v1h-1zM193 188h1v1h-1zM247 188h1v1h-1zM249 188h2v1h-2zM253 188h1v1h-1zM256 188h1v1h-1zM259 188h1v1h-1zM142 189h1v1h-1zM146 189h1v1h-1zM156 189h1v1h-1zM158 189h1v1h-1zM163 189h1v1h-1zM167 189h1v1h-1zM169 189h1v1h-1zM173 189h1v1h-1zM181 189h1v1h-1zM191 189h2v1h-2zM194 189h1v1h-1zM246 189h2v1h-2zM250 189h1v1h-1zM253 189h1v1h-1zM255 189h1v1h-1zM257 189h1v1h-1zM145 190h1v1h-1zM150 190h1v1h-1zM155 190h1v1h-1zM157 190h2v1h-2zM160 190h1v1h-1zM162 190h1v1h-1zM164 190h1v1h-1zM168 190h4v1h-4zM173 190h1v1h-1zM175 190h1v1h-1zM178 190h2v1h-2zM182 190h1v1h-1zM189 190h1v1h-1zM193 190h1v1h-1zM247 190h3v1h-3zM140 191h1v1h-1zM144 191h1v1h-1zM151 191h1v1h-1zM153 191h1v1h-1zM157 191h1v1h-1zM161 191h2v1h-2zM165 191h2v1h-2zM168 191h2v1h-2zM172 191h1v1h-1zM175 191h1v1h-1zM177 191h1v1h-1zM180 191h1v1h-1zM183 191h1v1h-1zM185 191h2v1h-2zM188 191h1v1h-1zM191 191h3v1h-3zM195 191h1v1h-1zM245 191h1v1h-1zM249 191h2v1h-2zM252 191h1v1h-1zM149 192h1v1h-1zM153 192h1v1h-1zM157 192h3v1h-3zM164 192h2v1h-2zM167 192h1v1h-1zM170 192h1v1h-1zM173 192h1v1h-1zM177 192h4v1h-4zM182 192h1v1h-1zM184 192h1v1h-1zM186 192h1v1h-1zM189 192h1v1h-1zM245 192h5v1h-5zM251 192h2v1h-2zM254 192h1v1h-1zM256 192h1v1h-1zM147 193h2v1h-2zM155 193h2v1h-2zM158 193h1v1h-1zM160 193h1v1h-1zM162 193h1v1h-1zM164 193h1v1h-1zM169 193h2v1h-2zM172 193h3v1h-3zM177 193h1v1h-1zM179 193h1v1h-1zM181 193h1v1h-1zM185 193h2v1h-2zM188 193h1v1h-1zM190 193h1v1h-1zM194 193h1v1h-1zM244 193h4v1h-4zM249 193h2v1h-2zM146 194h1v1h-1zM148 194h1v1h-1zM152 194h3v1h-3zM159 194h1v1h-1zM161 194h2v1h-2zM165 194h2v1h-2zM169 194h1v1h-1zM171 194h4v1h-4zM176 194h6v1h-6zM183 194h2v1h-2zM186 194h1v1h-1zM189 194h4v1h-4zM194 194h1v1h-1zM197 194h1v1h-1zM245 194h1v1h-1zM247 194h3v1h-3zM251 194h1v1h-1zM145 195h1v1h-1zM151 195h2v1h-2zM157 195h1v1h-1zM160 195h2v1h-2zM163 195h2v1h-2zM166 195h1v1h-1zM168 195h5v1h-5zM174 195h1v1h-1zM176 195h1v1h-1zM178 195h1v1h-1zM181 195h1v1h-1zM183 195h3v1h-3zM189 195h1v1h-1zM243 195h3v1h-3zM247 195h2v1h-2zM137 196h1v1h-1zM142 196h1v1h-1zM144 196h1v1h-1zM155 196h1v1h-1zM160 196h6v1h-6zM167 196h12v1h-12zM180 196h5v1h-5zM188 196h2v1h-2zM193 196h1v1h-1zM196 196h1v1h-1zM243 196h3v1h-3zM247 196h3v1h-3zM268 196h1v1h-1zM144 197h1v1h-1zM148 197h1v1h-1zM153 197h1v1h-1zM159 197h1v1h-1zM161 197h1v1h-1zM163 197h2v1h-2zM166 197h3v1h-3zM171 197h2v1h-2zM176 197h4v1h-4zM181 197h1v1h-1zM184 197h4v1h-4zM190 197h1v1h-1zM192 197h1v1h-1zM242 197h1v1h-1zM245 197h1v1h-1zM248 197h1v1h-1zM254 197h1v1h-1zM141 198h1v1h-1zM149 198h1v1h-1zM151 198h1v1h-1zM156 198h2v1h-2zM161 198h1v1h-1zM163 198h1v1h-1zM166 198h7v1h-7zM174 198h4v1h-4zM180 198h1v1h-1zM184 198h1v1h-1zM190 198h1v1h-1zM193 198h1v1h-1zM242 198h1v1h-1zM244 198h5v1h-5zM126 199h1v1h-1zM135 199h2v1h-2zM138 199h1v1h-1zM143 199h2v1h-2zM146 199h2v1h-2zM152 199h1v1h-1zM154 199h3v1h-3zM160 199h3v1h-3zM164 199h3v1h-3zM168 199h4v1h-4zM173 199h3v1h-3zM177 199h5v1h-5zM183 199h1v1h-1zM186 199h1v1h-1zM188 199h2v1h-2zM191 199h1v1h-1zM193 199h1v1h-1zM196 199h1v1h-1zM198 199h1v1h-1zM241 199h1v1h-1zM245 199h1v1h-1zM138 200h1v1h-1zM144 200h1v1h-1zM150 200h1v1h-1zM158 200h2v1h-2zM161 200h2v1h-2zM165 200h6v1h-6zM172 200h1v1h-1zM175 200h2v1h-2zM178 200h5v1h-5zM184 200h4v1h-4zM189 200h6v1h-6zM196 200h1v1h-1zM241 200h2v1h-2zM250 200h1v1h-1zM136 201h1v1h-1zM149 201h1v1h-1zM151 201h1v1h-1zM155 201h1v1h-1zM158 201h3v1h-3zM163 201h1v1h-1zM167 201h9v1h-9zM177 201h2v1h-2zM180 201h1v1h-1zM183 201h3v1h-3zM187 201h2v1h-2zM190 201h2v1h-2zM193 201h3v1h-3zM197 201h1v1h-1zM240 201h4v1h-4zM143 202h1v1h-1zM147 202h1v1h-1zM152 202h1v1h-1zM156 202h1v1h-1zM158 202h1v1h-1zM160 202h13v1h-13zM174 202h13v1h-13zM188 202h1v1h-1zM193 202h1v1h-1zM196 202h1v1h-1zM241 202h5v1h-5zM143 203h1v1h-1zM149 203h2v1h-2zM155 203h6v1h-6zM162 203h1v1h-1zM168 203h1v1h-1zM170 203h4v1h-4zM177 203h2v1h-2zM180 203h1v1h-1zM182 203h5v1h-5zM188 203h1v1h-1zM191 203h2v1h-2zM194 203h1v1h-1zM196 203h2v1h-2zM239 203h3v1h-3zM244 203h1v1h-1zM248 203h1v1h-1zM251 203h1v1h-1zM150 204h1v1h-1zM152 204h1v1h-1zM155 204h1v1h-1zM158 204h9v1h-9zM168 204h26v1h-26zM195 204h1v1h-1zM197 204h1v1h-1zM239 204h4v1h-4zM244 204h2v1h-2zM260 204h1v1h-1zM147 205h1v1h-1zM153 205h1v1h-1zM155 205h2v1h-2zM158 205h1v1h-1zM160 205h1v1h-1zM163 205h9v1h-9zM174 205h1v1h-1zM176 205h4v1h-4zM182 205h8v1h-8zM194 205h1v1h-1zM196 205h2v1h-2zM238 205h1v1h-1zM240 205h3v1h-3zM252 205h1v1h-1zM142 206h1v1h-1zM144 206h1v1h-1zM148 206h2v1h-2zM152 206h1v1h-1zM154 206h1v1h-1zM156 206h2v1h-2zM159 206h2v1h-2zM162 206h8v1h-8zM171 206h1v1h-1zM173 206h5v1h-5zM179 206h1v1h-1zM181 206h6v1h-6zM189 206h2v1h-2zM192 206h2v1h-2zM195 206h1v1h-1zM198 206h1v1h-1zM238 206h1v1h-1zM240 206h1v1h-1zM242 206h4v1h-4zM253 206h1v1h-1z"/>
<path fill="#d84869" d="M268 60h11v1h-11zM268 61h13v1h-13zM268 62h15v1h-15zM268 63h17v1h-17zM268 64h19v1h-19zM268 65h20v1h-20zM268 66h21v1h-21zM268 67h22v1h-22zM268 68h22v1h-22zM268 69h22v1h-22zM268 70h23v1h-23zM268 71h23v1h-23zM268 72h23v1h-23zM268 73h23v1h-23zM268 74h23v1h-23zM268 75h23v1h-23zM268 76h22v1h-22zM268 77h22v1h-22zM268 78h22v1h-22zM268 79h22v1h-22zM268 80h21v1h-21zM268 81h21v1h-21zM268 82h21v1h-21zM268 83h21v1h-21zM268 84h20v1h-20zM268 85h20v1h-20zM268 86h20v1h-20zM268 87h19v1h-19zM268 88h19v1h-19zM268 89h19v1h-19zM268 90h19v1h-19zM268 91h18v1h-18zM268 92h18v1h-18zM268 93h18v1h-18zM268 94h17v1h-17zM268 95h17v1h-17zM268 96h17v1h-17zM268 97h17v1h-17zM268 98h16v1h-16zM268 99h16v1h-16zM268 100h16v1h-16zM268 101h15v1h-15zM268 102h15v1h-15zM268 103h15v1h-15zM268 104h14v1h-14zM268 105h14v1h-14zM268 106h14v1h-14zM268 107h14v1h-14zM268 108h13v1h-13zM268 109h13v1h-13zM268 110h13v1h-13zM268 111h12v1h-12zM268 112h12v1h-12zM268 113h11v1h-11zM268 114h11v1h-11zM268 115h11v1h-11zM268 116h10v1h-10zM268 117h10v1h-10zM268 118h9v1h-9zM268 119h9v1h-9zM268 120h9v1h-9zM268 121h8v1h-8zM268 122h8v1h-8zM268 123h7v1h-7zM268 124h7v1h-7zM268 125h7v1h-7zM268 126h6v1h-6zM268 127h6v1h-6zM268 128h5v1h-5zM268 129h5v1h-5zM268 130h5v1h-5zM268 131h4v1h-4zM268 132h4v1h-4zM268 133h3v1h-3zM268 134h3v1h-3zM268 135h3v1h-3zM268 136h2v1h-2zM268 137h2v1h-2zM268 138h1v1h-1zM268 139h1v1h-1z"/>
<path fill="#d84869" fill-opacity="0.85" d="M278 49h1v1h-1zM273 50h1v1h-1zM275 50h1v1h-1zM269 51h1v1h-1zM274 51h1v1h-1zM274 52h1v1h-1zM277 52h1v1h-1zM284 52h1v1h-1zM273 53h1v1h-1zM282 53h1v1h-1zM271 54h3v1h-3zM278 54h1v1h-1zM281 54h1v1h-1zM270 55h4v1h-4zM276 55h2v1h-2zM282 55h3v1h-3zM288 55h2v1h-2zM268 56h2v1h-2zM271 56h4v1h-4zM276 56h2v1h-2zM279 56h2v1h-2zM284 56h1v1h-1zM287 56h1v1h-1zM268 57h9v1h-9zM278 57h1v1h-1zM280 57h2v1h-2zM283 57h1v1h-1zM285 57h1v1h-1zM289 57h1v1h-1zM268 58h15v1h-15zM284 58h1v1h-1zM289 58h1v1h-1zM268 59h6v1h-6zM275 59h5v1h-5zM281 59h1v1h-1zM283 59h4v1h-4zM288 59h1v1h-1zM292 59h1v1h-1zM279 60h5v1h-5zM285 60h3v1h-3zM290 60h1v1h-1zM300 60h1v1h-1zM281 61h6v1h-6zM292 61h1v1h-1zM298 61h1v1h-1zM283 62h5v1h-5zM291 62h1v1h-1zM293 62h1v1h-1zM296 62h1v1h-1zM299 62h1v1h-1zM285 63h6v1h-6zM292 63h3v1h-3zM296 63h1v1h-1zM298 63h1v1h-1zM287 64h1v1h-1zM289 64h1v1h-1zM291 64h1v1h-1zM293 64h1v1h-1zM296 64h2v1h-2zM300 64h1v1h-1zM288 65h6v1h-6zM289 66h5v1h-5zM296 66h2v1h-2zM299 66h2v1h-2zM290 67h6v1h-6zM290 68h7v1h-7zM291 69h7v1h-7zM291 70h4v1h-4zM296 70h1v1h-1zM298 70h1v1h-1zM291 71h1v1h-1zM293 71h1v1h-1zM295 71h1v1h-1zM299 71h1v1h-1zM303 71h1v1h-1zM291 72h4v1h-4zM296 72h3v1h-3zM302 72h1v1h-1zM291 73h1v1h-1zM294 73h1v1h-1zM296 73h2v1h-2zM299 73h1v1h-1zM291 74h5v1h-5zM298 74h1v1h-1zM292 75h4v1h-4zM299 75h1v1h-1zM302 75h1v1h-1zM304 75h1v1h-1zM306 75h1v1h-1zM290 76h2v1h-2zM293 76h2v1h-2zM296 76h4v1h-4zM303 76h1v1h-1zM290 77h7v1h-7zM290 78h5v1h-5zM296 78h1v1h-1zM298 78h1v1h-1zM290 79h1v1h-1zM292 79h1v1h-1zM294 79h1v1h-1zM296 79h2v1h-2zM289 80h3v1h-3zM294 80h1v1h-1zM299 80h1v1h-1zM289 81h3v1h-3zM293 81h2v1h-2zM298 81h1v1h-1zM289 82h8v1h-8zM300 82h1v1h-1zM289 83h4v1h-4zM296 83h2v1h-2zM303 83h1v1h-1zM306 83h1v1h-1zM288 84h3v1h-3zM292 84h3v1h-3zM296 84h1v1h-1zM301 84h2v1h-2zM288 85h4v1h-4zM294 85h1v1h-1zM299 85h1v1h-1zM288 86h7v1h-7zM296 86h2v1h-2zM287 87h1v1h-1zM289 87h1v1h-1zM291 87h1v1h-1zM295 87h2v1h-2zM307 87h1v1h-1zM287 88h3v1h-3zM291 88h2v1h-2zM295 88h1v1h-1zM287 89h2v1h-2zM290 89h4v1h-4zM287 90h3v1h-3zM291 90h2v1h-2zM294 90h1v1h-1zM296 90h1v1h-1zM298 90h1v1h-1zM303 90h1v1h-1zM286 91h9v1h-9zM286 92h1v1h-1zM289 92h2v1h-2zM293 92h4v1h-4zM286 93h1v1h-1zM288 93h4v1h-4zM294 93h1v1h-1zM285 94h4v1h-4zM290 94h4v1h-4zM285 95h3v1h-3zM289 95h1v1h-1zM291 95h1v1h-1zM285 96h1v1h-1zM288 96h1v1h-1zM295 96h1v1h-1zM285 97h5v1h-5zM291 97h1v1h-1zM294 97h1v1h-1zM296 97h1v1h-1zM284 98h3v1h-3zM289 98h1v1h-1zM291 98h1v1h-1zM299 98h1v1h-1zM284 99h4v1h-4zM289 99h3v1h-3zM284 100h4v1h-4zM292 100h1v1h-1zM296 100h1v1h-1zM283 101h2v1h-2zM286 101h1v1h-1zM293 101h1v1h-1zM283 102h8v1h-8zM283 103h3v1h-3zM287 103h1v1h-1zM289 103h1v1h-1zM291 103h1v1h-1zM282 104h1v1h-1zM284 104h5v1h-5zM294 104h1v1h-1zM282 105h5v1h-5zM291 105h1v1h-1zM293 105h1v1h-1zM282 106h3v1h-3zM286 106h1v1h-1zM292 106h1v1h-1zM282 107h3v1h-3zM286 107h1v1h-1zM288 107h1v1h-1zM281 108h5v1h-5zM287 108h1v1h-1zM289 108h2v1h-2zM281 109h3v1h-3zM286 109h1v1h-1zM289 109h1v1h-1zM299 109h1v1h-1zM281 110h1v1h-1zM284 110h1v1h-1zM286 110h1v1h-1zM280 111h5v1h-5zM286 111h1v1h-1zM291 111h1v1h-1zM294 111h1v1h-1zM280 112h6v1h-6zM298 112h1v1h-1zM279 113h4v1h-4zM285 113h1v1h-1zM288 113h1v1h-1zM279 114h5v1h-5zM285 114h1v1h-1zM287 114h1v1h-1zM291 114h1v1h-1zM279 115h3v1h-3zM283 115h1v1h-1zM290 115h1v1h-1zM294 115h2v1h-2zM278 116h2v1h-2zM281 116h2v1h-2zM285 116h2v1h-2zM293 116h1v1h-1zM278 117h8v1h-8zM289 117h1v1h-1zM292 117h1v1h-1zM277 118h2v1h-2zM280 118h2v1h-2zM283 118h1v1h-1zM277 119h4v1h-4zM282 119h4v1h-4zM287 119h1v1h-1zM290 119h1v1h-1zM277 120h4v1h-4zM282 120h1v1h-1zM284 120h3v1h-3zM276 121h4v1h-4zM281 121h1v1h-1zM286 121h1v1h-1zM276 122h4v1h-4zM281 122h3v1h-3zM285 122h1v1h-1zM275 123h1v1h-1zM277 123h6v1h-6zM275 124h3v1h-3zM280 124h1v1h-1zM275 125h5v1h-5zM282 125h1v1h-1zM284 125h1v1h-1zM286 125h1v1h-1zM274 126h3v1h-3zM278 126h1v1h-1zM281 126h1v1h-1zM283 126h1v1h-1zM274 127h1v1h-1zM276 127h6v1h-6zM283 127h1v1h-1zM273 128h5v1h-5zM280 128h1v1h-1zM273 129h3v1h-3zM277 129h1v1h-1zM281 129h1v1h-1zM285 129h1v1h-1zM287 129h1v1h-1zM273 130h5v1h-5zM280 130h1v1h-1zM283 130h1v1h-1zM272 131h5v1h-5zM280 131h1v1h-1zM272 132h3v1h-3zM276 132h1v1h-1zM278 132h2v1h-2zM282 132h2v1h-2zM285 132h1v1h-1zM287 132h1v1h-1zM271 133h4v1h-4zM278 133h1v1h-1zM283 133h1v1h-1zM288 133h1v1h-1zM271 134h4v1h-4zM277 134h3v1h-3zM271 135h5v1h-5zM278 135h2v1h-2zM281 135h1v1h-1zM270 136h2v1h-2zM273 136h3v1h-3zM277 136h3v1h-3zM281 136h1v1h-1zM270 137h4v1h-4zM275 137h5v1h-5zM269 138h2v1h-2zM272 138h1v1h-1zM283 138h1v1h-1zM269 139h3v1h-3zM275 139h1v1h-1zM279 139h1v1h-1zM268 140h2v1h-2zM272 140h2v1h-2zM275 140h2v1h-2zM268 141h2v1h-2zM271 141h2v1h-2zM280 141h1v1h-1zM283 141h1v1h-1zM268 142h1v1h-1zM270 142h3v1h-3zM278 142h1v1h-1zM269 143h2v1h-2zM272 143h2v1h-2zM276 143h1v1h-1zM271 144h1v1h-1zM275 145h1v1h-1zM270 148h1v1h-1zM272 148h1v1h-1zM269 149h1v1h-1z"/>
<path d="M48.8 41V213.5H350" stroke="#231f20" stroke-width="1.3" fill="none"/>
<text x="39.5" y="209.9" font-size="9.8" text-anchor="end" fill="#231f20">0</text>
<text x="39.5" y="178.20000000000002" font-size="9.8" text-anchor="end" fill="#231f20">5</text>
<text x="39.5" y="146.5" font-size="9.8" text-anchor="end" fill="#231f20">10</text>
<text x="39.5" y="114.80000000000001" font-size="9.8" text-anchor="end" fill="#231f20">15</text>
<text x="39.5" y="83.10000000000001" font-size="9.8" text-anchor="end" fill="#231f20">20</text>
<text x="39.5" y="51.400000000000006" font-size="9.8" text-anchor="end" fill="#231f20">25</text>
<text x="113.79999999999998" y="231.4" font-size="9.8" text-anchor="middle" fill="#231f20">−0.5</text>
<text x="199.7" y="231.4" font-size="9.8" text-anchor="middle" fill="#231f20">0.0</text>
<text x="285.6" y="231.4" font-size="9.8" text-anchor="middle" fill="#231f20">0.5</text>
<path d="M44.4 206.4H48.8M44.4 174.7H48.8M44.4 143.0H48.8M44.4 111.3H48.8M44.4 79.6H48.8M44.4 47.9H48.8M113.8 213.5V217.8M199.7 213.5V217.8M285.6 213.5V217.8" stroke="#231f20" stroke-width="1.3" fill="none"/>
<text x="199.7" y="249.4" font-size="12.6" text-anchor="middle" textLength="79" lengthAdjust="spacingAndGlyphs" fill="#231f20">Delta mean betas</text>
<text transform="translate(21.6,128.5) rotate(-90)" font-size="12.4" text-anchor="middle" fill="#231f20" textLength="87.5" lengthAdjust="spacingAndGlyphs">-log10(adj. <tspan font-style="italic">P</tspan>-value)</text>
<text x="53.8" y="53.6" font-size="9.7" textLength="28.9" lengthAdjust="spacingAndGlyphs" fill="#231f20">Higher</text>
<circle cx="55.8" cy="61.3" r="2.4" fill="#d9657f"/>
<text x="63.1" y="64.7" font-size="9.7" textLength="54.8" lengthAdjust="spacingAndGlyphs" fill="#231f20">in CIMP high</text>
<circle cx="55.8" cy="71.8" r="2.4" fill="#2f9bbf"/>
<text x="63.1" y="75.2" font-size="9.7" textLength="50.5" lengthAdjust="spacingAndGlyphs" fill="#231f20">in CIMP low</text>
<circle cx="55.8" cy="82.3" r="2.4" fill="#a9a9a9"/>
<text x="63.1" y="85.7" font-size="9.7" textLength="61.5" lengthAdjust="spacingAndGlyphs" fill="#231f20">not diff. meth.</text>
<text x="365" y="24.8" font-size="18" font-weight="bold" fill="#000">B</text>
<text x="409.4" y="18" font-size="9.5" fill="#231f20">CGI</text>
<rect x="409.4" y="24" width="9.2" height="8.5" fill="#c8102e"/>
<text x="423.5" y="31" font-size="9.5" textLength="24.4" lengthAdjust="spacingAndGlyphs" fill="#231f20">Island</text>
<rect x="409.4" y="36.3" width="9.2" height="8.5" fill="#f39200"/>
<text x="423.5" y="43.3" font-size="9.5" textLength="24.5" lengthAdjust="spacingAndGlyphs" fill="#231f20">Shore</text>
<rect x="457.8" y="24" width="9.2" height="8.5" fill="#3aaa35"/>
<text x="471.90000000000003" y="31" font-size="9.5" textLength="21.2" lengthAdjust="spacingAndGlyphs" fill="#231f20">Shelf</text>
<rect x="457.8" y="36.3" width="9.2" height="8.5" fill="#2ea3dc"/>
<text x="471.90000000000003" y="43.3" font-size="9.5" textLength="36" lengthAdjust="spacingAndGlyphs" fill="#231f20">InterCGI</text>
<rect x="415.3" y="154.78" width="13.7" height="51.32" fill="#2ea3dc"/>
<rect x="415.3" y="141.02" width="13.7" height="13.75" fill="#3aaa35"/>
<rect x="415.3" y="105.53" width="13.7" height="35.50" fill="#f39200"/>
<rect x="415.3" y="58.20" width="13.7" height="47.33" fill="#c8102e"/>
<rect x="451.8" y="201.66" width="13.7" height="4.44" fill="#2ea3dc"/>
<rect x="451.8" y="200.48" width="13.7" height="1.18" fill="#3aaa35"/>
<rect x="451.8" y="177.85" width="13.7" height="22.63" fill="#f39200"/>
<rect x="451.8" y="58.20" width="13.7" height="119.65" fill="#c8102e"/>
<rect x="488.3" y="203.59" width="13.7" height="2.51" fill="#2ea3dc"/>
<rect x="488.3" y="202.40" width="13.7" height="1.18" fill="#3aaa35"/>
<rect x="488.3" y="180.07" width="13.7" height="22.33" fill="#f39200"/>
<rect x="488.3" y="58.20" width="13.7" height="121.87" fill="#c8102e"/>
<path d="M408 51V213.4H510" stroke="#231f20" stroke-width="1.3" fill="none"/>
<path d="M403.6 206.1H408M403.6 169.1H408M403.6 132.1H408M403.6 95.2H408M403.6 58.2H408M422.1 213.4V218M458.6 213.4V218M495.1 213.4V218" stroke="#231f20" stroke-width="1.3" fill="none"/>
<text x="399.3" y="209.6" font-size="9.9" text-anchor="end" fill="#231f20">0</text>
<text x="399.3" y="172.625" font-size="9.9" text-anchor="end" fill="#231f20">25</text>
<text x="399.3" y="135.64999999999998" font-size="9.9" text-anchor="end" fill="#231f20">50</text>
<text x="399.3" y="98.67499999999998" font-size="9.9" text-anchor="end" fill="#231f20">75</text>
<text x="399.3" y="61.69999999999999" font-size="9.9" text-anchor="end" fill="#231f20">100</text>
<text transform="translate(374.5,131.6) rotate(-90)" font-size="10.2" text-anchor="middle" fill="#231f20">Proportion</text>
<text transform="translate(422.7,227.0) rotate(-45)" font-size="10.0" text-anchor="end" fill="#231f20">Total</text>
<text transform="translate(431.2,235.5) rotate(-45)" font-size="10.0" text-anchor="end" fill="#231f20">380829 CpGs</text>
<text transform="translate(459.2,227.0) rotate(-45)" font-size="10.0" text-anchor="end" fill="#231f20">CIMP panel</text>
<text transform="translate(467.7,235.5) rotate(-45)" font-size="10.0" text-anchor="end" fill="#231f20">1091 CpGs</text>
<text transform="translate(495.7,227.0) rotate(-45)" font-size="10.0" text-anchor="end" fill="#231f20">CIMP low vs high</text>
<text transform="translate(504.2,235.5) rotate(-45)" font-size="10.0" text-anchor="end" fill="#231f20">DM-CpGs, 7630 CpGs</text>
<text x="11" y="321.6" font-size="18" font-weight="bold" fill="#000">C</text>
<text transform="translate(36.7,367.8) rotate(-90)" font-size="9.1" fill="#231f20" textLength="23.9" lengthAdjust="spacingAndGlyphs">CD34</text>
<text transform="translate(46.8,367.8) rotate(-90)" font-size="9.1" fill="#231f20" textLength="18.7" lengthAdjust="spacingAndGlyphs">CD3</text>
<text transform="translate(55.3,367.8) rotate(-90)" font-size="9.1" fill="#231f20" textLength="50.9" lengthAdjust="spacingAndGlyphs">Lymphnode</text>
<rect x="59.4" y="339.1" width="146.60" height="8.60" fill="#1b93b8"/>
<rect x="64.5" y="339.1" width="2.50" height="8.60" fill="#cc2a0c"/>
<rect x="68.5" y="339.1" width="2.00" height="8.60" fill="#5f9b2f"/>
<rect x="72" y="339.1" width="4.00" height="8.60" fill="#cc2a0c"/>
<rect x="81.5" y="339.1" width="1.50" height="8.60" fill="#cc2a0c"/>
<rect x="85.5" y="339.1" width="2.50" height="8.60" fill="#cc2a0c"/>
<rect x="90" y="339.1" width="1.50" height="8.60" fill="#5f9b2f"/>
<rect x="91.5" y="339.1" width="3.00" height="8.60" fill="#cc2a0c"/>
<rect x="97" y="339.1" width="2.00" height="8.60" fill="#cc2a0c"/>
<rect x="102.5" y="339.1" width="2.00" height="8.60" fill="#cc2a0c"/>
<rect x="105" y="339.1" width="1.50" height="8.60" fill="#cc2a0c"/>
<rect x="106.5" y="339.1" width="1.00" height="8.60" fill="#5f9b2f"/>
<rect x="115.5" y="339.1" width="1.50" height="8.60" fill="#a3a3ad"/>
<rect x="126.5" y="339.1" width="2.00" height="8.60" fill="#cc2a0c"/>
<rect x="144.5" y="339.1" width="1.50" height="8.60" fill="#f0a30a"/>
<rect x="146" y="339.1" width="2.00" height="8.60" fill="#cc2a0c"/>
<rect x="150" y="339.1" width="2.00" height="8.60" fill="#cc2a0c"/>
<rect x="154" y="339.1" width="3.60" height="8.60" fill="#cc2a0c"/>
<rect x="163.5" y="339.1" width="2.00" height="8.60" fill="#cc2a0c"/>
<rect x="178.5" y="339.1" width="1.50" height="8.60" fill="#cc2a0c"/>
<rect x="186" y="339.1" width="1.00" height="8.60" fill="#f0a30a"/>
<rect x="187" y="339.1" width="2.00" height="8.60" fill="#cc2a0c"/>
<rect x="204" y="339.1" width="1.50" height="8.60" fill="#cc2a0c"/>
<rect x="59.4" y="348.7" width="146.60" height="9.00" fill="#34b6c8"/>
<rect x="64.5" y="348.7" width="2.50" height="9.00" fill="#b9a7d6"/>
<rect x="70" y="348.7" width="2.00" height="9.00" fill="#b9a7d6"/>
<rect x="72.5" y="348.7" width="3.50" height="9.00" fill="#e08cc8"/>
<rect x="81.5" y="348.7" width="1.50" height="9.00" fill="#b9a7d6"/>
<rect x="85.5" y="348.7" width="2.50" height="9.00" fill="#e08cc8"/>
<rect x="91.5" y="348.7" width="3.00" height="9.00" fill="#e08cc8"/>
<rect x="97" y="348.7" width="2.00" height="9.00" fill="#b9a7d6"/>
<rect x="102.5" y="348.7" width="2.00" height="9.00" fill="#e08cc8"/>
<rect x="105" y="348.7" width="1.50" height="9.00" fill="#e08cc8"/>
<rect x="115.5" y="348.7" width="1.50" height="9.00" fill="#b9a7d6"/>
<rect x="126.5" y="348.7" width="2.00" height="9.00" fill="#e08cc8"/>
<rect x="144.5" y="348.7" width="2.50" height="9.00" fill="#e08cc8"/>
<rect x="150" y="348.7" width="2.00" height="9.00" fill="#e08cc8"/>
<rect x="163.5" y="348.7" width="2.00" height="9.00" fill="#e08cc8"/>
<rect x="178.5" y="348.7" width="1.50" height="9.00" fill="#b9a7d6"/>
<rect x="186" y="348.7" width="3.00" height="9.00" fill="#e08cc8"/>
<rect x="59.4" y="358.8" width="146.60" height="8.40" fill="#1d70a9"/>
<rect x="209.4" y="339.1" width="224.30" height="8.60" fill="#1b93b8"/>
<rect x="218.8" y="339.1" width="2.20" height="8.60" fill="#cc2a0c"/>
<rect x="244" y="339.1" width="2.00" height="8.60" fill="#5f9b2f"/>
<rect x="263.5" y="339.1" width="1.50" height="8.60" fill="#cc2a0c"/>
<rect x="269.5" y="339.1" width="2.00" height="8.60" fill="#cc2a0c"/>
<rect x="292.5" y="339.1" width="2.00" height="8.60" fill="#cc2a0c"/>
<rect x="308" y="339.1" width="1.50" height="8.60" fill="#a3a3ad"/>
<rect x="311.5" y="339.1" width="3.00" height="8.60" fill="#5f9b2f"/>
<rect x="338.5" y="339.1" width="2.00" height="8.60" fill="#5f9b2f"/>
<rect x="344" y="339.1" width="2.00" height="8.60" fill="#5f9b2f"/>
<rect x="368" y="339.1" width="2.00" height="8.60" fill="#cc2a0c"/>
<rect x="381.5" y="339.1" width="2.00" height="8.60" fill="#5f9b2f"/>
<rect x="414" y="339.1" width="2.00" height="8.60" fill="#cc2a0c"/>
<rect x="209.4" y="348.7" width="224.30" height="9.00" fill="#34b6c8"/>
<rect x="219" y="348.7" width="2.00" height="9.00" fill="#b9a7d6"/>
<rect x="222" y="348.7" width="2.00" height="9.00" fill="#b9a7d6"/>
<rect x="244" y="348.7" width="2.00" height="9.00" fill="#e08cc8"/>
<rect x="308" y="348.7" width="1.50" height="9.00" fill="#e08cc8"/>
<rect x="312" y="348.7" width="2.50" height="9.00" fill="#e08cc8"/>
<rect x="339" y="348.7" width="2.00" height="9.00" fill="#b9a7d6"/>
<rect x="344" y="348.7" width="2.00" height="9.00" fill="#b9a7d6"/>
<rect x="368" y="348.7" width="2.00" height="9.00" fill="#b9a7d6"/>
<rect x="381.5" y="348.7" width="2.00" height="9.00" fill="#e08cc8"/>
<rect x="414" y="348.7" width="2.00" height="9.00" fill="#e08cc8"/>
<rect x="209.4" y="358.8" width="224.30" height="8.40" fill="#c4112f"/>
<filter id="fCL" x="59" y="369" width="147" height="219" filterUnits="userSpaceOnUse" color-interpolation-filters="sRGB"><feTurbulence type="fractalNoise" baseFrequency="0.25 0.6" numOctaves="1" seed="5" result="ngr"/><feColorMatrix in="ngr" type="matrix" values="1 0 0 0 0 1 0 0 0 0 1 0 0 0 0 0 0 0 0 1" result="ngq"/><feFlood x="60" y="369" width="1" height="1" flood-color="#fff" result="ngf"/><feComposite in="ngf" in2="ngf" x="59" y="369" width="3" height="1" operator="over" result="ngt"/><feTile in="ngt" result="ngg"/><feComposite in="ngq" in2="ngg" operator="in" result="ngd"/><feMorphology in="ngd" operator="dilate" radius="1 0" result="ngm"/><feColorMatrix in="ngm" type="matrix" values="1 0 0 0 0 0 1 0 0 0 0 0 1 0 0 0 0 0 0 1" result="ng"/><feTurbulence type="fractalNoise" baseFrequency="0.25 0.6" numOctaves="1" seed="22" result="n2gr"/><feColorMatrix in="n2gr" type="matrix" values="5.0 0 0 0 -2.15 5.0 0 0 0 -2.15 5.0 0 0 0 -2.15 0 0 0 0 1" result="n2gq"/><feFlood x="60" y="369" width="1" height="1" flood-color="#fff" result="n2gf"/><feComposite in="n2gf" in2="n2gf" x="59" y="369" width="3" height="1" operator="over" result="n2gt"/><feTile in="n2gt" result="n2gg"/><feComposite in="n2gq" in2="n2gg" operator="in" result="n2gd"/><feMorphology in="n2gd" operator="dilate" radius="1 0" result="n2gm"/><feColorMatrix in="n2gm" type="matrix" values="1 0 0 0 0 0 1 0 0 0 0 0 1 0 0 0 0 0 0 1" result="n2g"/><feComposite in="ng" in2="n2g" operator="arithmetic" k1="0" k2="0.8" k3="0.35" k4="0.09999999999999998" result="nc"/><feComposite in="SourceGraphic" in2="nc" operator="arithmetic" k1="1" k2="0" k3="0" k4="0" result="p"/><feColorMatrix in="SourceGraphic" type="matrix" values="1 0 0 0 0 0 0 0 0 0 0 1 0 0 0 0 0 0 0 1" result="m1"/><feColorMatrix in="p" type="matrix" values="0 0 0 0 0 0 1 0 0 0 0 0 0 0 0 0 0 0 0 1" result="m2"/><feComposite in="m1" in2="m2" operator="arithmetic" k1="0" k2="1" k3="1" k4="0" result="s"/><feColorMatrix in="s" type="matrix" values="1 2.5 -1.25 0 0 1 2.5 -1.25 0 0 1 2.5 -1.25 0 0 0 0 0 0 1" result="v0"/><feTurbulence type="fractalNoise" baseFrequency="0.004 0.55" numOctaves="1" seed="38" result="nr"/><feColorMatrix in="nr" type="matrix" values="1 0 0 0 0 1 0 0 0 0 1 0 0 0 0 0 0 0 0 1" result="nrg"/><feComposite in="v0" in2="nrg" operator="arithmetic" k1="0" k2="1" k3="0.2" k4="-0.1" result="v1"/><feComponentTransfer in="v1"><feFuncR type="table" tableValues="0.141 0.134 0.126 0.118 0.110 0.108 0.112 0.143 0.192 0.241 0.318 0.435 0.553 0.667 0.766 0.865 0.965 0.972 0.979 0.987 0.982 0.975 0.968 0.949 0.922 0.895 0.864 0.829 0.793 0.751 0.684 0.616 0.549"/><feFuncG type="table" tableValues="0.251 0.314 0.377 0.428 0.465 0.496 0.523 0.561 0.606 0.651 0.700 0.756 0.811 0.861 0.892 0.922 0.953 0.921 0.889 0.857 0.799 0.734 0.669 0.595 0.516 0.436 0.364 0.304 0.244 0.187 0.140 0.094 0.047"/><feFuncB type="table" tableValues="0.557 0.604 0.652 0.687 0.708 0.724 0.736 0.748 0.759 0.770 0.783 0.799 0.815 0.827 0.827 0.827 0.827 0.738 0.649 0.559 0.465 0.369 0.274 0.210 0.169 0.127 0.102 0.104 0.105 0.107 0.112 0.117 0.122"/></feComponentTransfer></filter>
<filter id="fCR" x="209" y="369" width="225" height="219" filterUnits="userSpaceOnUse" color-interpolation-filters="sRGB"><feTurbulence type="fractalNoise" baseFrequency="0.25 0.6" numOctaves="1" seed="6" result="ngr"/><feColorMatrix in="ngr" type="matrix" values="1 0 0 0 0 1 0 0 0 0 1 0 0 0 0 0 0 0 0 1" result="ngq"/><feFlood x="210" y="369" width="1" height="1" flood-color="#fff" result="ngf"/><feComposite in="ngf" in2="ngf" x="209" y="369" width="3" height="1" operator="over" result="ngt"/><feTile in="ngt" result="ngg"/><feComposite in="ngq" in2="ngg" operator="in" result="ngd"/><feMorphology in="ngd" operator="dilate" radius="1 0" result="ngm"/><feColorMatrix in="ngm" type="matrix" values="1 0 0 0 0 0 1 0 0 0 0 0 1 0 0 0 0 0 0 1" result="ng"/><feTurbulence type="fractalNoise" baseFrequency="0.25 0.6" numOctaves="1" seed="23" result="n2gr"/><feColorMatrix in="n2gr" type="matrix" values="5.0 0 0 0 -2.3 5.0 0 0 0 -2.3 5.0 0 0 0 -2.3 0 0 0 0 1" result="n2gq"/><feFlood x="210" y="369" width="1" height="1" flood-color="#fff" result="n2gf"/><feComposite in="n2gf" in2="n2gf" x="209" y="369" width="3" height="1" operator="over" result="n2gt"/><feTile in="n2gt" result="n2gg"/><feComposite in="n2gq" in2="n2gg" operator="in" result="n2gd"/><feMorphology in="n2gd" operator="dilate" radius="1 0" result="n2gm"/><feColorMatrix in="n2gm" type="matrix" values="1 0 0 0 0 0 1 0 0 0 0 0 1 0 0 0 0 0 0 1" result="n2g"/><feComposite in="ng" in2="n2g" operator="arithmetic" k1="0" k2="0.8" k3="0.15" k4="0.09999999999999998" result="nc"/><feComposite in="SourceGraphic" in2="nc" operator="arithmetic" k1="1" k2="0" k3="0" k4="0" result="p"/><feColorMatrix in="SourceGraphic" type="matrix" values="1 0 0 0 0 0 0 0 0 0 0 1 0 0 0 0 0 0 0 1" result="m1"/><feColorMatrix in="p" type="matrix" values="0 0 0 0 0 0 1 0 0 0 0 0 0 0 0 0 0 0 0 1" result="m2"/><feComposite in="m1" in2="m2" operator="arithmetic" k1="0" k2="1" k3="1" k4="0" result="s"/><feColorMatrix in="s" type="matrix" values="1 2.5 -1.25 0 0 1 2.5 -1.25 0 0 1 2.5 -1.25 0 0 0 0 0 0 1" result="v0"/><feTurbulence type="fractalNoise" baseFrequency="0.004 0.55" numOctaves="1" seed="39" result="nr"/><feColorMatrix in="nr" type="matrix" values="1 0 0 0 0 1 0 0 0 0 1 0 0 0 0 0 0 0 0 1" result="nrg"/><feComposite in="v0" in2="nrg" operator="arithmetic" k1="0" k2="1" k3="0.08" k4="-0.04" result="v1"/><feComponentTransfer in="v1"><feFuncR type="table" tableValues="0.549 0.616 0.684 0.751 0.793 0.829 0.864 0.895 0.922 0.949 0.968 0.975 0.982 0.987 0.979 0.972 0.965 0.865 0.766 0.667 0.553 0.435 0.318 0.241 0.192 0.143 0.112 0.108 0.110 0.118 0.126 0.134 0.141"/><feFuncG type="table" tableValues="0.047 0.094 0.140 0.187 0.244 0.304 0.364 0.436 0.516 0.595 0.669 0.734 0.799 0.857 0.889 0.921 0.953 0.922 0.892 0.861 0.811 0.756 0.700 0.651 0.606 0.561 0.523 0.496 0.465 0.428 0.377 0.314 0.251"/><feFuncB type="table" tableValues="0.122 0.117 0.112 0.107 0.105 0.104 0.102 0.127 0.169 0.210 0.274 0.369 0.465 0.559 0.649 0.738 0.827 0.827 0.827 0.827 0.815 0.799 0.783 0.770 0.759 0.748 0.736 0.724 0.708 0.687 0.652 0.604 0.557"/></feComponentTransfer></filter>
<g filter="url(#fCL)">
<rect x="59" y="369" width="3" height="219" fill="#352000"/>
<rect x="62" y="369" width="3" height="219" fill="#2c2200"/>
<rect x="65" y="369" width="3" height="219" fill="#2c2d00"/>
<rect x="68" y="369" width="3" height="219" fill="#322900"/>
<rect x="71" y="369" width="3" height="219" fill="#342400"/>
<rect x="74" y="369" width="3" height="219" fill="#2c2900"/>
<rect x="77" y="369" width="3" height="219" fill="#312400"/>
<rect x="80" y="369" width="3" height="219" fill="#323000"/>
<rect x="83" y="369" width="3" height="219" fill="#2f2b00"/>
<rect x="86" y="369" width="3" height="219" fill="#322d00"/>
<rect x="89" y="369" width="3" height="219" fill="#342e00"/>
<rect x="92" y="369" width="3" height="219" fill="#352800"/>
<rect x="95" y="369" width="3" height="219" fill="#303100"/>
<rect x="98" y="369" width="3" height="219" fill="#302b00"/>
<rect x="101" y="369" width="3" height="219" fill="#313000"/>
<rect x="104" y="369" width="3" height="219" fill="#303200"/>
<rect x="107" y="369" width="3" height="219" fill="#362600"/>
<rect x="110" y="369" width="3" height="219" fill="#2b3400"/>
<rect x="113" y="369" width="3" height="219" fill="#303900"/>
<rect x="116" y="369" width="3" height="219" fill="#3b3100"/>
<rect x="119" y="369" width="3" height="219" fill="#313300"/>
<rect x="122" y="369" width="3" height="219" fill="#333300"/>
<rect x="125" y="369" width="3" height="219" fill="#303600"/>
<rect x="128" y="369" width="3" height="219" fill="#2d3700"/>
<rect x="131" y="369" width="3" height="219" fill="#333c00"/>
<rect x="134" y="369" width="3" height="219" fill="#343900"/>
<rect x="137" y="369" width="3" height="219" fill="#303800"/>
<rect x="140" y="369" width="3" height="219" fill="#363d00"/>
<rect x="143" y="369" width="3" height="219" fill="#344100"/>
<rect x="146" y="369" width="3" height="219" fill="#383600"/>
<rect x="149" y="369" width="3" height="219" fill="#2c3400"/>
<rect x="152" y="369" width="3" height="219" fill="#343c00"/>
<rect x="155" y="369" width="3" height="219" fill="#333900"/>
<rect x="158" y="369" width="3" height="219" fill="#373a00"/>
<rect x="161" y="369" width="3" height="219" fill="#2f3d00"/>
<rect x="164" y="369" width="3" height="219" fill="#3b3b00"/>
<rect x="167" y="369" width="3" height="219" fill="#3b4400"/>
<rect x="170" y="369" width="3" height="219" fill="#3b4500"/>
<rect x="173" y="369" width="3" height="219" fill="#3a4500"/>
<rect x="176" y="369" width="3" height="219" fill="#444600"/>
<rect x="179" y="369" width="3" height="219" fill="#3e4f00"/>
<rect x="182" y="369" width="3" height="219" fill="#663300"/>
<rect x="185" y="369" width="3" height="219" fill="#464e00"/>
<rect x="188" y="369" width="3" height="219" fill="#494c00"/>
<rect x="191" y="369" width="3" height="219" fill="#4e4d00"/>
<rect x="194" y="369" width="3" height="219" fill="#4b5000"/>
<rect x="197" y="369" width="3" height="219" fill="#4b5000"/>
<rect x="200" y="369" width="3" height="219" fill="#4d5300"/>
<rect x="203" y="369" width="3" height="219" fill="#585700"/>
</g><g filter="url(#fCR)">
<rect x="209" y="369" width="3" height="219" fill="#818900"/>
<rect x="212" y="369" width="3" height="219" fill="#729900"/>
<rect x="215" y="369" width="3" height="219" fill="#81a800"/>
<rect x="218" y="369" width="3" height="219" fill="#7e9900"/>
<rect x="221" y="369" width="3" height="219" fill="#779c00"/>
<rect x="224" y="369" width="3" height="219" fill="#639b00"/>
<rect x="227" y="369" width="3" height="219" fill="#679000"/>
<rect x="230" y="369" width="3" height="219" fill="#689e00"/>
<rect x="233" y="369" width="3" height="219" fill="#708f00"/>
<rect x="236" y="369" width="3" height="219" fill="#789e00"/>
<rect x="239" y="369" width="3" height="219" fill="#6a8600"/>
<rect x="242" y="369" width="3" height="219" fill="#638c00"/>
<rect x="245" y="369" width="3" height="219" fill="#659600"/>
<rect x="248" y="369" width="3" height="219" fill="#6c8900"/>
<rect x="251" y="369" width="3" height="219" fill="#539700"/>
<rect x="254" y="369" width="3" height="219" fill="#598300"/>
<rect x="257" y="369" width="3" height="219" fill="#489100"/>
<rect x="260" y="369" width="3" height="219" fill="#588100"/>
<rect x="263" y="369" width="3" height="219" fill="#566e00"/>
<rect x="266" y="369" width="3" height="219" fill="#687d00"/>
<rect x="269" y="369" width="3" height="219" fill="#567500"/>
<rect x="272" y="369" width="3" height="219" fill="#576b00"/>
<rect x="275" y="369" width="3" height="219" fill="#476d00"/>
<rect x="278" y="369" width="3" height="219" fill="#596000"/>
<rect x="281" y="369" width="3" height="219" fill="#526500"/>
<rect x="284" y="369" width="3" height="219" fill="#407400"/>
<rect x="287" y="369" width="3" height="219" fill="#4a5100"/>
<rect x="290" y="369" width="3" height="219" fill="#5f4e00"/>
<rect x="293" y="369" width="3" height="219" fill="#245f00"/>
<rect x="296" y="369" width="3" height="219" fill="#485e00"/>
<rect x="299" y="369" width="3" height="219" fill="#484a00"/>
<rect x="302" y="369" width="3" height="219" fill="#394c00"/>
<rect x="305" y="369" width="3" height="219" fill="#3c4400"/>
<rect x="308" y="369" width="3" height="219" fill="#4d4f00"/>
<rect x="311" y="369" width="3" height="219" fill="#394c00"/>
<rect x="314" y="369" width="3" height="219" fill="#354c00"/>
<rect x="317" y="369" width="3" height="219" fill="#523f00"/>
<rect x="320" y="369" width="3" height="219" fill="#573900"/>
<rect x="323" y="369" width="3" height="219" fill="#375400"/>
<rect x="326" y="369" width="3" height="219" fill="#464800"/>
<rect x="329" y="369" width="3" height="219" fill="#623500"/>
<rect x="332" y="369" width="3" height="219" fill="#3c5000"/>
<rect x="335" y="369" width="3" height="219" fill="#3a3d00"/>
<rect x="338" y="369" width="3" height="219" fill="#374900"/>
<rect x="341" y="369" width="3" height="219" fill="#403500"/>
<rect x="344" y="369" width="3" height="219" fill="#693900"/>
<rect x="347" y="369" width="3" height="219" fill="#543700"/>
<rect x="350" y="369" width="3" height="219" fill="#3d4c00"/>
<rect x="353" y="369" width="3" height="219" fill="#475100"/>
<rect x="356" y="369" width="3" height="219" fill="#2a5100"/>
<rect x="359" y="369" width="3" height="219" fill="#594c00"/>
<rect x="362" y="369" width="3" height="219" fill="#4a4a00"/>
<rect x="365" y="369" width="3" height="219" fill="#483f00"/>
<rect x="368" y="369" width="3" height="219" fill="#3e5000"/>
<rect x="371" y="369" width="3" height="219" fill="#354700"/>
<rect x="374" y="369" width="3" height="219" fill="#433c00"/>
<rect x="377" y="369" width="3" height="219" fill="#374500"/>
<rect x="380" y="369" width="3" height="219" fill="#355200"/>
<rect x="383" y="369" width="3" height="219" fill="#324500"/>
<rect x="386" y="369" width="3" height="219" fill="#514600"/>
<rect x="389" y="369" width="3" height="219" fill="#443600"/>
<rect x="392" y="369" width="3" height="219" fill="#3b4c00"/>
<rect x="395" y="369" width="3" height="219" fill="#383d00"/>
<rect x="398" y="369" width="3" height="219" fill="#335000"/>
<rect x="401" y="369" width="3" height="219" fill="#3d2f00"/>
<rect x="404" y="369" width="3" height="219" fill="#354700"/>
<rect x="407" y="369" width="3" height="219" fill="#424900"/>
<rect x="410" y="369" width="3" height="219" fill="#3c3400"/>
<rect x="413" y="369" width="3" height="219" fill="#413b00"/>
<rect x="416" y="369" width="3" height="219" fill="#304a00"/>
<rect x="419" y="369" width="3" height="219" fill="#573100"/>
<rect x="422" y="369" width="3" height="219" fill="#165200"/>
<rect x="425" y="369" width="3" height="219" fill="#2a4900"/>
<rect x="428" y="369" width="3" height="219" fill="#2a3a00"/>
<rect x="431" y="369" width="3" height="219" fill="#462a00"/>
</g>
<rect x="29.1" y="369.6" width="8.7" height="218" fill="#1a7ab5"/>
<rect x="38.7" y="369.6" width="8.5" height="218" fill="#1a7ab5"/>
<rect x="48.1" y="369.6" width="8.9" height="218" fill="#1a7ab5"/>
<text x="438.3" y="346.7" font-size="9.7" fill="#231f20">Outcome</text>
<text x="438.3" y="356.7" font-size="9.7" fill="#231f20">Death</text>
<text x="438.3" y="366.7" font-size="9.7" fill="#231f20">CIMP</text>
<text x="438.0" y="380.6" font-size="9.7" fill="#231f20">β-values</text>
<linearGradient id="gC" x1="0" y1="0" x2="0" y2="1"><stop offset="0.0" stop-color="#8c0c1f"/><stop offset="0.09999999999999998" stop-color="#c3321b"/><stop offset="0.19999999999999996" stop-color="#e0631a"/><stop offset="0.30000000000000004" stop-color="#f6a43c"/><stop offset="0.4" stop-color="#fcd98a"/><stop offset="0.5" stop-color="#f6f3d3"/><stop offset="0.6" stop-color="#a5dad3"/><stop offset="0.7" stop-color="#45adc6"/><stop offset="0.8" stop-color="#1d88bd"/><stop offset="0.86" stop-color="#1b7bb7"/><stop offset="0.92" stop-color="#1f69ad"/><stop offset="1" stop-color="#24408e"/></linearGradient>
<rect x="438.1" y="391.3" width="8.1" height="38.7" fill="url(#gC)"/>
<text x="449.4" y="398.9" font-size="9.7" fill="#231f20">1</text>
<text x="449.4" y="413.4" font-size="9.7" fill="#231f20">0.5</text>
<text x="449.4" y="430.9" font-size="9.7" fill="#231f20">0</text>
<text x="438.1" y="450.9" font-size="9.7" fill="#231f20">Outcome</text>
<rect x="438.1" y="456.80" width="6.7" height="6.7" fill="#1b93b8"/>
<text x="449.70000000000005" y="462.99999999999994" font-size="9.7" fill="#231f20">CR</text>
<rect x="438.1" y="467.10" width="6.7" height="6.7" fill="#5f9b2f"/>
<text x="449.70000000000005" y="473.29999999999995" font-size="9.7" fill="#231f20">DCR</text>
<rect x="438.1" y="477.40" width="6.7" height="6.7" fill="#a3a3ad"/>
<text x="449.70000000000005" y="483.59999999999997" font-size="9.7" fill="#231f20">IF</text>
<rect x="438.1" y="487.70" width="6.7" height="6.7" fill="#cc2a0c"/>
<text x="449.70000000000005" y="493.8999999999999" font-size="9.7" fill="#231f20">Relapse</text>
<rect x="438.1" y="498.00" width="6.7" height="6.7" fill="#f0a30a"/>
<text x="449.70000000000005" y="504.19999999999993" font-size="9.7" fill="#231f20">SMN</text>
<text x="438.1" y="519.5" font-size="9.7" fill="#231f20">Death</text>
<rect x="438.1" y="525.40" width="6.7" height="6.7" fill="#34b6c8"/>
<text x="449.70000000000005" y="531.6" font-size="9.7" fill="#231f20">alive</text>
<rect x="438.1" y="535.70" width="6.7" height="6.7" fill="#e08cc8"/>
<text x="449.70000000000005" y="541.9" font-size="9.7" fill="#231f20">deceased</text>
<text x="438.1" y="556.8" font-size="9.7" fill="#231f20">CIMP</text>
<rect x="438.1" y="562.70" width="6.7" height="6.7" fill="#1d70a9"/>
<text x="449.70000000000005" y="568.9" font-size="9.7" fill="#231f20">CIMP low</text>
<rect x="438.1" y="573.00" width="6.7" height="6.7" fill="#c4112f"/>
<text x="449.70000000000005" y="579.1999999999999" font-size="9.7" fill="#231f20">CIMP high</text>
<text x="11" y="625.6" font-size="18" font-weight="bold" fill="#000">D</text>
<text transform="translate(36.7,670.9) rotate(-90)" font-size="9.1" fill="#231f20" textLength="23.9" lengthAdjust="spacingAndGlyphs">CD34</text>
<text transform="translate(46.8,670.9) rotate(-90)" font-size="9.1" fill="#231f20" textLength="18.7" lengthAdjust="spacingAndGlyphs">CD3</text>
<text transform="translate(55.3,670.9) rotate(-90)" font-size="9.1" fill="#231f20" textLength="50.9" lengthAdjust="spacingAndGlyphs">Lymphnode</text>
<rect x="59.4" y="644.1" width="145.60" height="8.40" fill="#1b93b8"/>
<rect x="66" y="644.1" width="3.50" height="8.40" fill="#cc2a0c"/>
<rect x="76" y="644.1" width="3.00" height="8.40" fill="#5f9b2f"/>
<rect x="90" y="644.1" width="9.00" height="8.40" fill="#cc2a0c"/>
<rect x="99" y="644.1" width="2.50" height="8.40" fill="#5f9b2f"/>
<rect x="107" y="644.1" width="3.00" height="8.40" fill="#cc2a0c"/>
<rect x="110" y="644.1" width="2.50" height="8.40" fill="#5f9b2f"/>
<rect x="120.5" y="644.1" width="2.50" height="8.40" fill="#a3a3ad"/>
<rect x="157.8" y="644.1" width="6.00" height="8.40" fill="#cc2a0c"/>
<rect x="172" y="644.1" width="2.00" height="8.40" fill="#5f9b2f"/>
<rect x="181.5" y="644.1" width="2.50" height="8.40" fill="#cc2a0c"/>
<rect x="201.5" y="644.1" width="3.50" height="8.40" fill="#cc2a0c"/>
<rect x="59.4" y="653.6" width="145.60" height="8.70" fill="#34b6c8"/>
<rect x="66" y="653.6" width="3.50" height="8.70" fill="#e08cc8"/>
<rect x="76" y="653.6" width="3.00" height="8.70" fill="#e08cc8"/>
<rect x="90" y="653.6" width="6.00" height="8.70" fill="#e08cc8"/>
<rect x="97" y="653.6" width="2.00" height="8.70" fill="#b9a7d6"/>
<rect x="100" y="653.6" width="2.00" height="8.70" fill="#e08cc8"/>
<rect x="110" y="653.6" width="3.00" height="8.70" fill="#e08cc8"/>
<rect x="120.5" y="653.6" width="2.50" height="8.70" fill="#e08cc8"/>
<rect x="172" y="653.6" width="2.00" height="8.70" fill="#e08cc8"/>
<rect x="181.5" y="653.6" width="2.50" height="8.70" fill="#e08cc8"/>
<rect x="59.4" y="663.6" width="145.60" height="8.00" fill="#1d70a9"/>
<rect x="208.8" y="644.1" width="220.20" height="8.40" fill="#1b93b8"/>
<rect x="240" y="644.1" width="2.00" height="8.40" fill="#5f9b2f"/>
<rect x="270" y="644.1" width="2.00" height="8.40" fill="#cc2a0c"/>
<rect x="290" y="644.1" width="3.00" height="8.40" fill="#cc2a0c"/>
<rect x="311" y="644.1" width="3.50" height="8.40" fill="#5f9b2f"/>
<rect x="352" y="644.1" width="2.00" height="8.40" fill="#5f9b2f"/>
<rect x="415.8" y="644.1" width="3.40" height="8.40" fill="#cc2a0c"/>
<rect x="208.8" y="653.6" width="220.20" height="8.70" fill="#34b6c8"/>
<rect x="240" y="653.6" width="2.00" height="8.70" fill="#e08cc8"/>
<rect x="311" y="653.6" width="3.50" height="8.70" fill="#e08cc8"/>
<rect x="352" y="653.6" width="2.00" height="8.70" fill="#e08cc8"/>
<rect x="416" y="653.6" width="2.00" height="8.70" fill="#e08cc8"/>
<rect x="208.8" y="663.6" width="220.20" height="8.00" fill="#c4112f"/>
<filter id="fD" x="59" y="674" width="370" height="224" filterUnits="userSpaceOnUse" color-interpolation-filters="sRGB"><feTurbulence type="fractalNoise" baseFrequency="0.3 0.3" numOctaves="1" seed="11" result="ngr"/><feColorMatrix in="ngr" type="matrix" values="1 0 0 0 0 1 0 0 0 0 1 0 0 0 0 0 0 0 0 1" result="ngq"/><feFlood x="60" y="675" width="1" height="1" flood-color="#fff" result="ngf"/><feComposite in="ngf" in2="ngf" x="59" y="674" width="3" height="3" operator="over" result="ngt"/><feTile in="ngt" result="ngg"/><feComposite in="ngq" in2="ngg" operator="in" result="ngd"/><feMorphology in="ngd" operator="dilate" radius="1 1" result="ngm"/><feColorMatrix in="ngm" type="matrix" values="1 0 0 0 0 0 1 0 0 0 0 0 1 0 0 0 0 0 0 1" result="ng"/><feTurbulence type="fractalNoise" baseFrequency="0.3 0.3" numOctaves="1" seed="28" result="n2gr"/><feColorMatrix in="n2gr" type="matrix" values="4.0 0 0 0 -2.4 4.0 0 0 0 -2.4 4.0 0 0 0 -2.4 0 0 0 0 1" result="n2gq"/><feFlood x="60" y="675" width="1" height="1" flood-color="#fff" result="n2gf"/><feComposite in="n2gf" in2="n2gf" x="59" y="674" width="3" height="3" operator="over" result="n2gt"/><feTile in="n2gt" result="n2gg"/><feComposite in="n2gq" in2="n2gg" operator="in" result="n2gd"/><feMorphology in="n2gd" operator="dilate" radius="1 1" result="n2gm"/><feColorMatrix in="n2gm" type="matrix" values="1 0 0 0 0 0 1 0 0 0 0 0 1 0 0 0 0 0 0 1" result="n2g"/><feComposite in="ng" in2="n2g" operator="arithmetic" k1="0" k2="0.8" k3="0.25" k4="0.09999999999999998" result="nc"/><feComposite in="SourceGraphic" in2="nc" operator="arithmetic" k1="1" k2="0" k3="0" k4="0" result="p"/><feColorMatrix in="SourceGraphic" type="matrix" values="1 0 0 0 0 0 0 0 0 0 0 1 0 0 0 0 0 0 0 1" result="m1"/><feColorMatrix in="p" type="matrix" values="0 0 0 0 0 0 1 0 0 0 0 0 0 0 0 0 0 0 0 1" result="m2"/><feComposite in="m1" in2="m2" operator="arithmetic" k1="0" k2="1" k3="1" k4="0" result="s"/><feColorMatrix in="s" type="matrix" values="1 2.5 -1.25 0 0 1 2.5 -1.25 0 0 1 2.5 -1.25 0 0 0 0 0 0 1" result="v0"/><feComponentTransfer in="v0"><feFuncR type="table" tableValues="0.165 0.148 0.139 0.142 0.144 0.138 0.164 0.294 0.424 0.637 0.851 0.926 0.959 0.983 0.977 0.971 0.960 0.946 0.930 0.888 0.846 0.803 0.762 0.720 0.678 0.667 0.656 0.645 0.633 0.622 0.611 0.600 0.588"/><feFuncG type="table" tableValues="0.290 0.332 0.386 0.460 0.530 0.586 0.643 0.706 0.769 0.842 0.916 0.917 0.896 0.865 0.798 0.730 0.652 0.568 0.482 0.384 0.286 0.200 0.159 0.119 0.078 0.074 0.070 0.065 0.061 0.056 0.052 0.048 0.043"/><feFuncB type="table" tableValues="0.612 0.649 0.682 0.710 0.732 0.726 0.727 0.748 0.769 0.781 0.793 0.739 0.664 0.580 0.461 0.341 0.265 0.213 0.164 0.162 0.159 0.157 0.158 0.160 0.161 0.157 0.154 0.150 0.147 0.144 0.140 0.137 0.133"/></feComponentTransfer></filter>
<g filter="url(#fD)">
<rect x="59" y="674" width="370" height="3" fill="#551c00"/>
<rect x="59" y="677" width="370" height="3" fill="#4d1c00"/>
<rect x="59" y="680" width="370" height="3" fill="#571c00"/>
<rect x="59" y="683" width="370" height="3" fill="#431c00"/>
<rect x="59" y="686" width="370" height="3" fill="#3e1c00"/>
<rect x="59" y="689" width="370" height="3" fill="#3c1c00"/>
<rect x="59" y="692" width="370" height="3" fill="#3d1c00"/>
<rect x="59" y="695" width="370" height="3" fill="#521c00"/>
<rect x="59" y="698" width="370" height="3" fill="#221c00"/>
<rect x="59" y="701" width="370" height="3" fill="#4e1c00"/>
<rect x="59" y="704" width="370" height="3" fill="#3a1c00"/>
<rect x="59" y="707" width="370" height="3" fill="#291c00"/>
<rect x="59" y="710" width="370" height="3" fill="#461c00"/>
<rect x="59" y="713" width="370" height="3" fill="#3f1c00"/>
<rect x="59" y="716" width="370" height="3" fill="#3c1c00"/>
<rect x="59" y="719" width="370" height="3" fill="#2e1c00"/>
<rect x="59" y="722" width="370" height="3" fill="#3c1c00"/>
<rect x="59" y="725" width="370" height="3" fill="#331c00"/>
<rect x="59" y="728" width="370" height="3" fill="#321c00"/>
<rect x="59" y="731" width="370" height="3" fill="#201c00"/>
<rect x="59" y="734" width="370" height="3" fill="#2a1c00"/>
<rect x="59" y="737" width="370" height="3" fill="#1c1c00"/>
<rect x="59" y="740" width="370" height="3" fill="#3c1c00"/>
<rect x="59" y="743" width="370" height="3" fill="#251c00"/>
<rect x="59" y="746" width="370" height="3" fill="#391c00"/>
<rect x="59" y="749" width="370" height="3" fill="#1a1c00"/>
<rect x="59" y="752" width="370" height="3" fill="#2d1c00"/>
<rect x="59" y="755" width="370" height="3" fill="#2c1c00"/>
<rect x="59" y="758" width="370" height="3" fill="#1c1c00"/>
<rect x="59" y="761" width="370" height="3" fill="#271c00"/>
<rect x="59" y="764" width="370" height="3" fill="#191c00"/>
<rect x="59" y="767" width="370" height="3" fill="#251c00"/>
<rect x="59" y="770" width="370" height="3" fill="#151c00"/>
<rect x="59" y="773" width="370" height="3" fill="#231c00"/>
<rect x="59" y="776" width="370" height="3" fill="#1c1c00"/>
<rect x="59" y="779" width="370" height="3" fill="#191c00"/>
<rect x="59" y="782" width="370" height="3" fill="#2a1c00"/>
<rect x="59" y="785" width="370" height="3" fill="#101c00"/>
<rect x="59" y="788" width="370" height="3" fill="#221c00"/>
<rect x="59" y="791" width="370" height="3" fill="#131c00"/>
<rect x="59" y="794" width="370" height="3" fill="#041c00"/>
<rect x="59" y="797" width="370" height="3" fill="#0f1c00"/>
<rect x="59" y="800" width="370" height="3" fill="#101c00"/>
<rect x="59" y="803" width="370" height="3" fill="#151c00"/>
<rect x="59" y="806" width="370" height="3" fill="#091c00"/>
<rect x="59" y="809" width="370" height="3" fill="#121c00"/>
<rect x="59" y="812" width="370" height="3" fill="#1f1c00"/>
<rect x="59" y="815" width="370" height="3" fill="#0a1c00"/>
<rect x="59" y="818" width="370" height="3" fill="#101c00"/>
<rect x="59" y="821" width="370" height="3" fill="#151c00"/>
<rect x="59" y="824" width="370" height="3" fill="#161c00"/>
<rect x="59" y="827" width="370" height="3" fill="#191c00"/>
<rect x="59" y="830" width="370" height="3" fill="#141c00"/>
<rect x="59" y="833" width="370" height="3" fill="#081c00"/>
<rect x="59" y="836" width="370" height="3" fill="#141c00"/>
<rect x="59" y="839" width="370" height="3" fill="#0a1c00"/>
<rect x="59" y="842" width="370" height="3" fill="#171c00"/>
<rect x="59" y="845" width="370" height="3" fill="#0a1c00"/>
<rect x="59" y="848" width="370" height="3" fill="#171c00"/>
<rect x="59" y="851" width="370" height="3" fill="#0c1c00"/>
<rect x="59" y="854" width="370" height="3" fill="#0c1c00"/>
<rect x="59" y="857" width="370" height="3" fill="#0f1c00"/>
<rect x="59" y="860" width="370" height="3" fill="#0c1c00"/>
<rect x="59" y="863" width="370" height="3" fill="#0a1c00"/>
<rect x="59" y="866" width="370" height="3" fill="#001c00"/>
<rect x="59" y="869" width="370" height="3" fill="#091c00"/>
<rect x="59" y="872" width="370" height="3" fill="#021c00"/>
<rect x="59" y="875" width="370" height="3" fill="#001c00"/>
<rect x="59" y="878" width="370" height="3" fill="#171c00"/>
<rect x="59" y="881" width="370" height="3" fill="#0d1c00"/>
<rect x="59" y="884" width="370" height="3" fill="#001c00"/>
<rect x="59" y="887" width="370" height="3" fill="#051c00"/>
<rect x="59" y="890" width="370" height="3" fill="#1a1c00"/>
<rect x="59" y="893" width="370" height="3" fill="#131c00"/>
<rect x="59" y="896" width="370" height="2" fill="#111c00"/>
<rect x="59" y="683" width="3" height="215" fill="#ff1c00" fill-opacity="0.012"/>
<rect x="62" y="683" width="3" height="215" fill="#001c00" fill-opacity="0.003"/>
<rect x="65" y="683" width="3" height="215" fill="#001c00" fill-opacity="0.007"/>
<rect x="68" y="683" width="3" height="215" fill="#ff1c00" fill-opacity="0.050"/>
<rect x="71" y="683" width="3" height="215" fill="#001c00" fill-opacity="0.019"/>
<rect x="74" y="683" width="3" height="215" fill="#ff1c00" fill-opacity="0.018"/>
<rect x="77" y="683" width="3" height="215" fill="#ff1c00" fill-opacity="0.006"/>
<rect x="80" y="683" width="3" height="215" fill="#ff1c00" fill-opacity="0.030"/>
<rect x="83" y="683" width="3" height="215" fill="#001c00" fill-opacity="0.037"/>
<rect x="86" y="683" width="3" height="215" fill="#ff1c00" fill-opacity="0.003"/>
<rect x="89" y="683" width="3" height="215" fill="#001c00" fill-opacity="0.003"/>
<rect x="92" y="683" width="3" height="215" fill="#ff1c00" fill-opacity="0.031"/>
<rect x="95" y="683" width="3" height="215" fill="#ff1c00" fill-opacity="0.024"/>
<rect x="98" y="683" width="3" height="215" fill="#001c00" fill-opacity="0.005"/>
<rect x="101" y="683" width="3" height="215" fill="#ff1c00" fill-opacity="0.050"/>
<rect x="104" y="683" width="3" height="215" fill="#001c00" fill-opacity="0.003"/>
<rect x="107" y="683" width="3" height="215" fill="#ff1c00" fill-opacity="0.008"/>
<rect x="110" y="683" width="3" height="215" fill="#ff1c00" fill-opacity="0.015"/>
<rect x="113" y="683" width="3" height="215" fill="#ff1c00" fill-opacity="0.008"/>
<rect x="116" y="683" width="3" height="215" fill="#ff1c00" fill-opacity="0.041"/>
<rect x="119" y="683" width="3" height="215" fill="#001c00" fill-opacity="0.011"/>
<rect x="122" y="683" width="3" height="215" fill="#ff1c00" fill-opacity="0.024"/>
<rect x="125" y="683" width="3" height="215" fill="#001c00" fill-opacity="0.018"/>
<rect x="128" y="683" width="3" height="215" fill="#001c00" fill-opacity="0.021"/>
<rect x="131" y="683" width="3" height="215" fill="#ff1c00" fill-opacity="0.016"/>
<rect x="134" y="683" width="3" height="215" fill="#ff1c00" fill-opacity="0.055"/>
<rect x="137" y="683" width="3" height="215" fill="#001c00" fill-opacity="0.018"/>
<rect x="140" y="683" width="3" height="215" fill="#ff1c00" fill-opacity="0.089"/>
<rect x="143" y="683" width="3" height="215" fill="#001c00" fill-opacity="0.015"/>
<rect x="146" y="683" width="3" height="215" fill="#ff1c00" fill-opacity="0.000"/>
<rect x="149" y="683" width="3" height="215" fill="#ff1c00" fill-opacity="0.046"/>
<rect x="152" y="683" width="3" height="215" fill="#001c00" fill-opacity="0.007"/>
<rect x="155" y="683" width="3" height="215" fill="#ff1c00" fill-opacity="0.047"/>
<rect x="158" y="683" width="3" height="215" fill="#ff1c00" fill-opacity="0.008"/>
<rect x="161" y="683" width="3" height="215" fill="#001c00" fill-opacity="0.011"/>
<rect x="164" y="683" width="3" height="215" fill="#ff1c00" fill-opacity="0.071"/>
<rect x="167" y="683" width="3" height="215" fill="#001c00" fill-opacity="0.038"/>
<rect x="170" y="683" width="3" height="215" fill="#ff1c00" fill-opacity="0.010"/>
<rect x="173" y="683" width="3" height="215" fill="#ff1c00" fill-opacity="0.038"/>
<rect x="176" y="683" width="3" height="215" fill="#001c00" fill-opacity="0.009"/>
<rect x="179" y="683" width="3" height="215" fill="#ff1c00" fill-opacity="0.009"/>
<rect x="182" y="683" width="3" height="215" fill="#ff1c00" fill-opacity="0.060"/>
<rect x="185" y="683" width="3" height="215" fill="#ff1c00" fill-opacity="0.013"/>
<rect x="188" y="683" width="3" height="215" fill="#001c00" fill-opacity="0.032"/>
<rect x="191" y="683" width="3" height="215" fill="#001c00" fill-opacity="0.025"/>
<rect x="194" y="683" width="3" height="215" fill="#ff1c00" fill-opacity="0.046"/>
<rect x="197" y="683" width="3" height="215" fill="#001c00" fill-opacity="0.019"/>
<rect x="200" y="683" width="3" height="215" fill="#001c00" fill-opacity="0.008"/>
<rect x="203" y="683" width="2" height="215" fill="#001c00" fill-opacity="0.002"/>
<rect x="209" y="683" width="3" height="215" fill="#001c00" fill-opacity="0.012"/>
<rect x="212" y="683" width="3" height="215" fill="#ff1c00" fill-opacity="0.051"/>
<rect x="215" y="683" width="3" height="215" fill="#001c00" fill-opacity="0.008"/>
<rect x="218" y="683" width="3" height="215" fill="#ff1c00" fill-opacity="0.021"/>
<rect x="221" y="683" width="3" height="215" fill="#ff1c00" fill-opacity="0.012"/>
<rect x="224" y="683" width="3" height="215" fill="#001c00" fill-opacity="0.022"/>
<rect x="227" y="683" width="3" height="215" fill="#001c00" fill-opacity="0.006"/>
<rect x="230" y="683" width="3" height="215" fill="#ff1c00" fill-opacity="0.050"/>
<rect x="233" y="683" width="3" height="215" fill="#001c00" fill-opacity="0.001"/>
<rect x="236" y="683" width="3" height="215" fill="#ff1c00" fill-opacity="0.011"/>
<rect x="239" y="683" width="3" height="215" fill="#001c00" fill-opacity="0.037"/>
<rect x="242" y="683" width="3" height="215" fill="#001c00" fill-opacity="0.011"/>
<rect x="245" y="683" width="3" height="215" fill="#001c00" fill-opacity="0.005"/>
<rect x="248" y="683" width="3" height="215" fill="#001c00" fill-opacity="0.013"/>
<rect x="251" y="683" width="3" height="215" fill="#ff1c00" fill-opacity="0.012"/>
<rect x="254" y="683" width="3" height="215" fill="#001c00" fill-opacity="0.015"/>
<rect x="257" y="683" width="3" height="215" fill="#001c00" fill-opacity="0.009"/>
<rect x="260" y="683" width="3" height="215" fill="#001c00" fill-opacity="0.028"/>
<rect x="263" y="683" width="3" height="215" fill="#ff1c00" fill-opacity="0.059"/>
<rect x="266" y="683" width="3" height="215" fill="#ff1c00" fill-opacity="0.017"/>
<rect x="269" y="683" width="3" height="215" fill="#ff1c00" fill-opacity="0.026"/>
<rect x="272" y="683" width="3" height="215" fill="#ff1c00" fill-opacity="0.028"/>
<rect x="275" y="683" width="3" height="215" fill="#001c00" fill-opacity="0.014"/>
<rect x="278" y="683" width="3" height="215" fill="#ff1c00" fill-opacity="0.058"/>
<rect x="281" y="683" width="3" height="215" fill="#001c00" fill-opacity="0.045"/>
<rect x="284" y="683" width="3" height="215" fill="#001c00" fill-opacity="0.026"/>
<rect x="287" y="683" width="3" height="215" fill="#ff1c00" fill-opacity="0.001"/>
<rect x="290" y="683" width="3" height="215" fill="#001c00" fill-opacity="0.022"/>
<rect x="293" y="683" width="3" height="215" fill="#ff1c00" fill-opacity="0.054"/>
<rect x="296" y="683" width="3" height="215" fill="#ff1c00" fill-opacity="0.042"/>
<rect x="299" y="683" width="3" height="215" fill="#001c00" fill-opacity="0.001"/>
<rect x="302" y="683" width="3" height="215" fill="#ff1c00" fill-opacity="0.012"/>
<rect x="305" y="683" width="3" height="215" fill="#001c00" fill-opacity="0.003"/>
<rect x="308" y="683" width="3" height="215" fill="#ff1c00" fill-opacity="0.004"/>
<rect x="311" y="683" width="3" height="215" fill="#001c00" fill-opacity="0.010"/>
<rect x="314" y="683" width="3" height="215" fill="#ff1c00" fill-opacity="0.007"/>
<rect x="317" y="683" width="3" height="215" fill="#ff1c00" fill-opacity="0.025"/>
<rect x="320" y="683" width="3" height="215" fill="#ff1c00" fill-opacity="0.015"/>
<rect x="323" y="683" width="3" height="215" fill="#001c00" fill-opacity="0.016"/>
<rect x="326" y="683" width="3" height="215" fill="#ff1c00" fill-opacity="0.010"/>
<rect x="329" y="683" width="3" height="215" fill="#001c00" fill-opacity="0.003"/>
<rect x="332" y="683" width="3" height="215" fill="#001c00" fill-opacity="0.009"/>
<rect x="335" y="683" width="3" height="215" fill="#ff1c00" fill-opacity="0.010"/>
<rect x="338" y="683" width="3" height="215" fill="#ff1c00" fill-opacity="0.003"/>
<rect x="341" y="683" width="3" height="215" fill="#001c00" fill-opacity="0.015"/>
<rect x="344" y="683" width="3" height="215" fill="#ff1c00" fill-opacity="0.006"/>
<rect x="347" y="683" width="3" height="215" fill="#ff1c00" fill-opacity="0.045"/>
<rect x="350" y="683" width="3" height="215" fill="#001c00" fill-opacity="0.000"/>
<rect x="353" y="683" width="3" height="215" fill="#001c00" fill-opacity="0.019"/>
<rect x="356" y="683" width="3" height="215" fill="#ff1c00" fill-opacity="0.004"/>
<rect x="359" y="683" width="3" height="215" fill="#ff1c00" fill-opacity="0.020"/>
<rect x="362" y="683" width="3" height="215" fill="#ff1c00" fill-opacity="0.026"/>
<rect x="365" y="683" width="3" height="215" fill="#001c00" fill-opacity="0.002"/>
<rect x="368" y="683" width="3" height="215" fill="#ff1c00" fill-opacity="0.038"/>
<rect x="371" y="683" width="3" height="215" fill="#001c00" fill-opacity="0.009"/>
<rect x="374" y="683" width="3" height="215" fill="#ff1c00" fill-opacity="0.006"/>
<rect x="377" y="683" width="3" height="215" fill="#001c00" fill-opacity="0.006"/>
<rect x="380" y="683" width="3" height="215" fill="#ff1c00" fill-opacity="0.037"/>
<rect x="383" y="683" width="3" height="215" fill="#ff1c00" fill-opacity="0.027"/>
<rect x="386" y="683" width="3" height="215" fill="#ff1c00" fill-opacity="0.009"/>
<rect x="389" y="683" width="3" height="215" fill="#ff1c00" fill-opacity="0.002"/>
<rect x="392" y="683" width="3" height="215" fill="#001c00" fill-opacity="0.035"/>
<rect x="395" y="683" width="3" height="215" fill="#001c00" fill-opacity="0.035"/>
<rect x="398" y="683" width="3" height="215" fill="#ff1c00" fill-opacity="0.067"/>
<rect x="401" y="683" width="3" height="215" fill="#ff1c00" fill-opacity="0.017"/>
<rect x="404" y="683" width="3" height="215" fill="#001c00" fill-opacity="0.002"/>
<rect x="407" y="683" width="3" height="215" fill="#001c00" fill-opacity="0.000"/>
<rect x="410" y="683" width="3" height="215" fill="#ff1c00" fill-opacity="0.034"/>
<rect x="413" y="683" width="3" height="215" fill="#001c00" fill-opacity="0.024"/>
<rect x="416" y="683" width="3" height="215" fill="#001c00" fill-opacity="0.039"/>
<rect x="419" y="683" width="3" height="215" fill="#001c00" fill-opacity="0.012"/>
<rect x="422" y="683" width="3" height="215" fill="#ff1c00" fill-opacity="0.032"/>
<rect x="425" y="683" width="3" height="215" fill="#ff1c00" fill-opacity="0.004"/>
<rect x="428" y="683" width="1" height="215" fill="#ff1c00" fill-opacity="0.019"/>
</g>
<rect x="205" y="673" width="4" height="226" fill="#fff"/>
<filter id="fD2" x="29" y="673.5" width="28.2" height="224" filterUnits="userSpaceOnUse" color-interpolation-filters="sRGB"><feTurbulence type="fractalNoise" baseFrequency="0.05 0.05" numOctaves="1" seed="2" result="n"/><feColorMatrix in="n" type="matrix" values="1 0 0 0 0 1 0 0 0 0 1 0 0 0 0 0 0 0 0 1" result="ng"/><feComposite in="SourceGraphic" in2="ng" operator="arithmetic" k1="0" k2="1" k3="0.0" k4="-0.0" result="v1"/><feComponentTransfer in="v1"><feFuncR type="table" tableValues="0.165 0.148 0.139 0.142 0.144 0.138 0.164 0.294 0.424 0.637 0.851 0.926 0.959 0.983 0.977 0.971 0.960 0.946 0.930 0.888 0.846 0.803 0.762 0.720 0.678 0.667 0.656 0.645 0.633 0.622 0.611 0.600 0.588"/><feFuncG type="table" tableValues="0.290 0.332 0.386 0.460 0.530 0.586 0.643 0.706 0.769 0.842 0.916 0.917 0.896 0.865 0.798 0.730 0.652 0.568 0.482 0.384 0.286 0.200 0.159 0.119 0.078 0.074 0.070 0.065 0.061 0.056 0.052 0.048 0.043"/><feFuncB type="table" tableValues="0.612 0.649 0.682 0.710 0.732 0.726 0.727 0.748 0.769 0.781 0.793 0.739 0.664 0.580 0.461 0.341 0.265 0.213 0.164 0.162 0.159 0.157 0.158 0.160 0.161 0.157 0.154 0.150 0.147 0.144 0.140 0.137 0.133"/></feComponentTransfer></filter>
<g filter="url(#fD2)">
<rect x="29.1" y="674.00" width="8.7" height="3.05" fill="#595959"/>
<rect x="29.1" y="677.00" width="8.7" height="3.05" fill="#464646"/>
<rect x="29.1" y="680.00" width="8.7" height="3.05" fill="#5b5b5b"/>
<rect x="29.1" y="683.00" width="8.7" height="3.05" fill="#525252"/>
<rect x="29.1" y="686.00" width="8.7" height="3.05" fill="#474747"/>
<rect x="29.1" y="689.00" width="8.7" height="3.05" fill="#414141"/>
<rect x="29.1" y="692.00" width="8.7" height="3.05" fill="#464646"/>
<rect x="29.1" y="695.00" width="8.7" height="3.05" fill="#636363"/>
<rect x="29.1" y="698.00" width="8.7" height="3.05" fill="#1b1b1b"/>
<rect x="29.1" y="701.00" width="8.7" height="3.05" fill="#646464"/>
<rect x="29.1" y="704.00" width="8.7" height="3.05" fill="#393939"/>
<rect x="29.1" y="707.00" width="8.7" height="3.05" fill="#303030"/>
<rect x="29.1" y="710.00" width="8.7" height="3.05" fill="#424242"/>
<rect x="29.1" y="713.00" width="8.7" height="3.05" fill="#3b3b3b"/>
<rect x="29.1" y="716.00" width="8.7" height="3.05" fill="#3e3e3e"/>
<rect x="29.1" y="719.00" width="8.7" height="3.05" fill="#3c3c3c"/>
<rect x="29.1" y="722.00" width="8.7" height="3.05" fill="#464646"/>
<rect x="29.1" y="725.00" width="8.7" height="3.05" fill="#404040"/>
<rect x="29.1" y="728.00" width="8.7" height="3.05" fill="#383838"/>
<rect x="29.1" y="731.00" width="8.7" height="3.05" fill="#373737"/>
<rect x="29.1" y="734.00" width="8.7" height="3.05" fill="#262626"/>
<rect x="29.1" y="737.00" width="8.7" height="3.05" fill="#2f2f2f"/>
<rect x="29.1" y="740.00" width="8.7" height="3.05" fill="#454545"/>
<rect x="29.1" y="743.00" width="8.7" height="3.05" fill="#3a3a3a"/>
<rect x="29.1" y="746.00" width="8.7" height="3.05" fill="#4e4e4e"/>
<rect x="29.1" y="749.00" width="8.7" height="3.05" fill="#0b0b0b"/>
<rect x="29.1" y="752.00" width="8.7" height="3.05" fill="#343434"/>
<rect x="29.1" y="755.00" width="8.7" height="3.05" fill="#323232"/>
<rect x="29.1" y="758.00" width="8.7" height="3.05" fill="#1f1f1f"/>
<rect x="29.1" y="761.00" width="8.7" height="3.05" fill="#191919"/>
<rect x="29.1" y="764.00" width="8.7" height="3.05" fill="#333333"/>
<rect x="29.1" y="767.00" width="8.7" height="3.05" fill="#3d3d3d"/>
<rect x="29.1" y="770.00" width="8.7" height="3.05" fill="#2c2c2c"/>
<rect x="29.1" y="773.00" width="8.7" height="3.05" fill="#313131"/>
<rect x="29.1" y="776.00" width="8.7" height="3.05" fill="#242424"/>
<rect x="29.1" y="779.00" width="8.7" height="3.05" fill="#282828"/>
<rect x="29.1" y="782.00" width="8.7" height="3.05" fill="#343434"/>
<rect x="29.1" y="785.00" width="8.7" height="3.05" fill="#000000"/>
<rect x="29.1" y="788.00" width="8.7" height="3.05" fill="#383838"/>
<rect x="29.1" y="791.00" width="8.7" height="3.05" fill="#313131"/>
<rect x="29.1" y="794.00" width="8.7" height="3.05" fill="#141414"/>
<rect x="29.1" y="797.00" width="8.7" height="3.05" fill="#1f1f1f"/>
<rect x="29.1" y="800.00" width="8.7" height="3.05" fill="#3f3f3f"/>
<rect x="29.1" y="803.00" width="8.7" height="3.05" fill="#171717"/>
<rect x="29.1" y="806.00" width="8.7" height="3.05" fill="#111111"/>
<rect x="29.1" y="809.00" width="8.7" height="3.05" fill="#212121"/>
<rect x="29.1" y="812.00" width="8.7" height="3.05" fill="#2c2c2c"/>
<rect x="29.1" y="815.00" width="8.7" height="3.05" fill="#212121"/>
<rect x="29.1" y="818.00" width="8.7" height="3.05" fill="#232323"/>
<rect x="29.1" y="821.00" width="8.7" height="3.05" fill="#333333"/>
<rect x="29.1" y="824.00" width="8.7" height="3.05" fill="#232323"/>
<rect x="29.1" y="827.00" width="8.7" height="3.05" fill="#1f1f1f"/>
<rect x="29.1" y="830.00" width="8.7" height="3.05" fill="#343434"/>
<rect x="29.1" y="833.00" width="8.7" height="3.05" fill="#202020"/>
<rect x="29.1" y="836.00" width="8.7" height="3.05" fill="#1a1a1a"/>
<rect x="29.1" y="839.00" width="8.7" height="3.05" fill="#272727"/>
<rect x="29.1" y="842.00" width="8.7" height="3.05" fill="#2d2d2d"/>
<rect x="29.1" y="845.00" width="8.7" height="3.05" fill="#212121"/>
<rect x="29.1" y="848.00" width="8.7" height="3.05" fill="#1b1b1b"/>
<rect x="29.1" y="851.00" width="8.7" height="3.05" fill="#161616"/>
<rect x="29.1" y="854.00" width="8.7" height="3.05" fill="#191919"/>
<rect x="29.1" y="857.00" width="8.7" height="3.05" fill="#313131"/>
<rect x="29.1" y="860.00" width="8.7" height="3.05" fill="#020202"/>
<rect x="29.1" y="863.00" width="8.7" height="3.05" fill="#262626"/>
<rect x="29.1" y="866.00" width="8.7" height="3.05" fill="#1d1d1d"/>
<rect x="29.1" y="869.00" width="8.7" height="3.05" fill="#323232"/>
<rect x="29.1" y="872.00" width="8.7" height="3.05" fill="#121212"/>
<rect x="29.1" y="875.00" width="8.7" height="3.05" fill="#000000"/>
<rect x="29.1" y="878.00" width="8.7" height="3.05" fill="#161616"/>
<rect x="29.1" y="881.00" width="8.7" height="3.05" fill="#1a1a1a"/>
<rect x="29.1" y="884.00" width="8.7" height="3.05" fill="#202020"/>
<rect x="29.1" y="887.00" width="8.7" height="3.05" fill="#080808"/>
<rect x="29.1" y="890.00" width="8.7" height="3.05" fill="#313131"/>
<rect x="29.1" y="893.00" width="8.7" height="3.05" fill="#252525"/>
<rect x="29.1" y="896.00" width="8.7" height="2.05" fill="#303030"/>
<rect x="38.7" y="674.00" width="8.5" height="3.05" fill="#505050"/>
<rect x="38.7" y="677.00" width="8.5" height="3.05" fill="#4a4a4a"/>
<rect x="38.7" y="680.00" width="8.5" height="3.05" fill="#474747"/>
<rect x="38.7" y="683.00" width="8.5" height="3.05" fill="#383838"/>
<rect x="38.7" y="686.00" width="8.5" height="3.05" fill="#3b3b3b"/>
<rect x="38.7" y="689.00" width="8.5" height="3.05" fill="#303030"/>
<rect x="38.7" y="692.00" width="8.5" height="3.05" fill="#494949"/>
<rect x="38.7" y="695.00" width="8.5" height="3.05" fill="#464646"/>
<rect x="38.7" y="698.00" width="8.5" height="3.05" fill="#242424"/>
<rect x="38.7" y="701.00" width="8.5" height="3.05" fill="#464646"/>
<rect x="38.7" y="704.00" width="8.5" height="3.05" fill="#4e4e4e"/>
<rect x="38.7" y="707.00" width="8.5" height="3.05" fill="#3a3a3a"/>
<rect x="38.7" y="710.00" width="8.5" height="3.05" fill="#5a5a5a"/>
<rect x="38.7" y="713.00" width="8.5" height="3.05" fill="#3d3d3d"/>
<rect x="38.7" y="716.00" width="8.5" height="3.05" fill="#3a3a3a"/>
<rect x="38.7" y="719.00" width="8.5" height="3.05" fill="#3a3a3a"/>
<rect x="38.7" y="722.00" width="8.5" height="3.05" fill="#3a3a3a"/>
<rect x="38.7" y="725.00" width="8.5" height="3.05" fill="#474747"/>
<rect x="38.7" y="728.00" width="8.5" height="3.05" fill="#373737"/>
<rect x="38.7" y="731.00" width="8.5" height="3.05" fill="#1b1b1b"/>
<rect x="38.7" y="734.00" width="8.5" height="3.05" fill="#232323"/>
<rect x="38.7" y="737.00" width="8.5" height="3.05" fill="#0c0c0c"/>
<rect x="38.7" y="740.00" width="8.5" height="3.05" fill="#2e2e2e"/>
<rect x="38.7" y="743.00" width="8.5" height="3.05" fill="#2a2a2a"/>
<rect x="38.7" y="746.00" width="8.5" height="3.05" fill="#2d2d2d"/>
<rect x="38.7" y="749.00" width="8.5" height="3.05" fill="#131313"/>
<rect x="38.7" y="752.00" width="8.5" height="3.05" fill="#262626"/>
<rect x="38.7" y="755.00" width="8.5" height="3.05" fill="#2f2f2f"/>
<rect x="38.7" y="758.00" width="8.5" height="3.05" fill="#1c1c1c"/>
<rect x="38.7" y="761.00" width="8.5" height="3.05" fill="#282828"/>
<rect x="38.7" y="764.00" width="8.5" height="3.05" fill="#2a2a2a"/>
<rect x="38.7" y="767.00" width="8.5" height="3.05" fill="#242424"/>
<rect x="38.7" y="770.00" width="8.5" height="3.05" fill="#101010"/>
<rect x="38.7" y="773.00" width="8.5" height="3.05" fill="#363636"/>
<rect x="38.7" y="776.00" width="8.5" height="3.05" fill="#2b2b2b"/>
<rect x="38.7" y="779.00" width="8.5" height="3.05" fill="#353535"/>
<rect x="38.7" y="782.00" width="8.5" height="3.05" fill="#2a2a2a"/>
<rect x="38.7" y="785.00" width="8.5" height="3.05" fill="#1b1b1b"/>
<rect x="38.7" y="788.00" width="8.5" height="3.05" fill="#2a2a2a"/>
<rect x="38.7" y="791.00" width="8.5" height="3.05" fill="#202020"/>
<rect x="38.7" y="794.00" width="8.5" height="3.05" fill="#171717"/>
<rect x="38.7" y="797.00" width="8.5" height="3.05" fill="#181818"/>
<rect x="38.7" y="800.00" width="8.5" height="3.05" fill="#383838"/>
<rect x="38.7" y="803.00" width="8.5" height="3.05" fill="#2a2a2a"/>
<rect x="38.7" y="806.00" width="8.5" height="3.05" fill="#0f0f0f"/>
<rect x="38.7" y="809.00" width="8.5" height="3.05" fill="#0c0c0c"/>
<rect x="38.7" y="812.00" width="8.5" height="3.05" fill="#262626"/>
<rect x="38.7" y="815.00" width="8.5" height="3.05" fill="#141414"/>
<rect x="38.7" y="818.00" width="8.5" height="3.05" fill="#090909"/>
<rect x="38.7" y="821.00" width="8.5" height="3.05" fill="#323232"/>
<rect x="38.7" y="824.00" width="8.5" height="3.05" fill="#303030"/>
<rect x="38.7" y="827.00" width="8.5" height="3.05" fill="#262626"/>
<rect x="38.7" y="830.00" width="8.5" height="3.05" fill="#1c1c1c"/>
<rect x="38.7" y="833.00" width="8.5" height="3.05" fill="#2d2d2d"/>
<rect x="38.7" y="836.00" width="8.5" height="3.05" fill="#080808"/>
<rect x="38.7" y="839.00" width="8.5" height="3.05" fill="#010101"/>
<rect x="38.7" y="842.00" width="8.5" height="3.05" fill="#101010"/>
<rect x="38.7" y="845.00" width="8.5" height="3.05" fill="#050505"/>
<rect x="38.7" y="848.00" width="8.5" height="3.05" fill="#121212"/>
<rect x="38.7" y="851.00" width="8.5" height="3.05" fill="#070707"/>
<rect x="38.7" y="854.00" width="8.5" height="3.05" fill="#0c0c0c"/>
<rect x="38.7" y="857.00" width="8.5" height="3.05" fill="#0f0f0f"/>
<rect x="38.7" y="860.00" width="8.5" height="3.05" fill="#000000"/>
<rect x="38.7" y="863.00" width="8.5" height="3.05" fill="#171717"/>
<rect x="38.7" y="866.00" width="8.5" height="3.05" fill="#141414"/>
<rect x="38.7" y="869.00" width="8.5" height="3.05" fill="#131313"/>
<rect x="38.7" y="872.00" width="8.5" height="3.05" fill="#121212"/>
<rect x="38.7" y="875.00" width="8.5" height="3.05" fill="#050505"/>
<rect x="38.7" y="878.00" width="8.5" height="3.05" fill="#292929"/>
<rect x="38.7" y="881.00" width="8.5" height="3.05" fill="#121212"/>
<rect x="38.7" y="884.00" width="8.5" height="3.05" fill="#080808"/>
<rect x="38.7" y="887.00" width="8.5" height="3.05" fill="#000000"/>
<rect x="38.7" y="890.00" width="8.5" height="3.05" fill="#161616"/>
<rect x="38.7" y="893.00" width="8.5" height="3.05" fill="#393939"/>
<rect x="38.7" y="896.00" width="8.5" height="2.05" fill="#222222"/>
<rect x="48.1" y="674.00" width="8.9" height="3.05" fill="#555555"/>
<rect x="48.1" y="677.00" width="8.9" height="3.05" fill="#606060"/>
<rect x="48.1" y="680.00" width="8.9" height="3.05" fill="#505050"/>
<rect x="48.1" y="683.00" width="8.9" height="3.05" fill="#484848"/>
<rect x="48.1" y="686.00" width="8.9" height="3.05" fill="#686868"/>
<rect x="48.1" y="689.00" width="8.9" height="3.05" fill="#3c3c3c"/>
<rect x="48.1" y="692.00" width="8.9" height="3.05" fill="#464646"/>
<rect x="48.1" y="695.00" width="8.9" height="3.05" fill="#565656"/>
<rect x="48.1" y="698.00" width="8.9" height="3.05" fill="#323232"/>
<rect x="48.1" y="701.00" width="8.9" height="3.05" fill="#474747"/>
<rect x="48.1" y="704.00" width="8.9" height="3.05" fill="#545454"/>
<rect x="48.1" y="707.00" width="8.9" height="3.05" fill="#2d2d2d"/>
<rect x="48.1" y="710.00" width="8.9" height="3.05" fill="#515151"/>
<rect x="48.1" y="713.00" width="8.9" height="3.05" fill="#4d4d4d"/>
<rect x="48.1" y="716.00" width="8.9" height="3.05" fill="#3c3c3c"/>
<rect x="48.1" y="719.00" width="8.9" height="3.05" fill="#3b3b3b"/>
<rect x="48.1" y="722.00" width="8.9" height="3.05" fill="#2a2a2a"/>
<rect x="48.1" y="725.00" width="8.9" height="3.05" fill="#3f3f3f"/>
<rect x="48.1" y="728.00" width="8.9" height="3.05" fill="#282828"/>
<rect x="48.1" y="731.00" width="8.9" height="3.05" fill="#2b2b2b"/>
<rect x="48.1" y="734.00" width="8.9" height="3.05" fill="#313131"/>
<rect x="48.1" y="737.00" width="8.9" height="3.05" fill="#404040"/>
<rect x="48.1" y="740.00" width="8.9" height="3.05" fill="#444444"/>
<rect x="48.1" y="743.00" width="8.9" height="3.05" fill="#3e3e3e"/>
<rect x="48.1" y="746.00" width="8.9" height="3.05" fill="#4f4f4f"/>
<rect x="48.1" y="749.00" width="8.9" height="3.05" fill="#2d2d2d"/>
<rect x="48.1" y="752.00" width="8.9" height="3.05" fill="#363636"/>
<rect x="48.1" y="755.00" width="8.9" height="3.05" fill="#3a3a3a"/>
<rect x="48.1" y="758.00" width="8.9" height="3.05" fill="#222222"/>
<rect x="48.1" y="761.00" width="8.9" height="3.05" fill="#484848"/>
<rect x="48.1" y="764.00" width="8.9" height="3.05" fill="#1e1e1e"/>
<rect x="48.1" y="767.00" width="8.9" height="3.05" fill="#424242"/>
<rect x="48.1" y="770.00" width="8.9" height="3.05" fill="#171717"/>
<rect x="48.1" y="773.00" width="8.9" height="3.05" fill="#323232"/>
<rect x="48.1" y="776.00" width="8.9" height="3.05" fill="#292929"/>
<rect x="48.1" y="779.00" width="8.9" height="3.05" fill="#2a2a2a"/>
<rect x="48.1" y="782.00" width="8.9" height="3.05" fill="#383838"/>
<rect x="48.1" y="785.00" width="8.9" height="3.05" fill="#0d0d0d"/>
<rect x="48.1" y="788.00" width="8.9" height="3.05" fill="#444444"/>
<rect x="48.1" y="791.00" width="8.9" height="3.05" fill="#363636"/>
<rect x="48.1" y="794.00" width="8.9" height="3.05" fill="#080808"/>
<rect x="48.1" y="797.00" width="8.9" height="3.05" fill="#232323"/>
<rect x="48.1" y="800.00" width="8.9" height="3.05" fill="#272727"/>
<rect x="48.1" y="803.00" width="8.9" height="3.05" fill="#333333"/>
<rect x="48.1" y="806.00" width="8.9" height="3.05" fill="#181818"/>
<rect x="48.1" y="809.00" width="8.9" height="3.05" fill="#161616"/>
<rect x="48.1" y="812.00" width="8.9" height="3.05" fill="#3a3a3a"/>
<rect x="48.1" y="815.00" width="8.9" height="3.05" fill="#232323"/>
<rect x="48.1" y="818.00" width="8.9" height="3.05" fill="#333333"/>
<rect x="48.1" y="821.00" width="8.9" height="3.05" fill="#2d2d2d"/>
<rect x="48.1" y="824.00" width="8.9" height="3.05" fill="#2d2d2d"/>
<rect x="48.1" y="827.00" width="8.9" height="3.05" fill="#323232"/>
<rect x="48.1" y="830.00" width="8.9" height="3.05" fill="#1a1a1a"/>
<rect x="48.1" y="833.00" width="8.9" height="3.05" fill="#303030"/>
<rect x="48.1" y="836.00" width="8.9" height="3.05" fill="#303030"/>
<rect x="48.1" y="839.00" width="8.9" height="3.05" fill="#292929"/>
<rect x="48.1" y="842.00" width="8.9" height="3.05" fill="#363636"/>
<rect x="48.1" y="845.00" width="8.9" height="3.05" fill="#191919"/>
<rect x="48.1" y="848.00" width="8.9" height="3.05" fill="#272727"/>
<rect x="48.1" y="851.00" width="8.9" height="3.05" fill="#353535"/>
<rect x="48.1" y="854.00" width="8.9" height="3.05" fill="#2c2c2c"/>
<rect x="48.1" y="857.00" width="8.9" height="3.05" fill="#1e1e1e"/>
<rect x="48.1" y="860.00" width="8.9" height="3.05" fill="#2b2b2b"/>
<rect x="48.1" y="863.00" width="8.9" height="3.05" fill="#101010"/>
<rect x="48.1" y="866.00" width="8.9" height="3.05" fill="#0b0b0b"/>
<rect x="48.1" y="869.00" width="8.9" height="3.05" fill="#444444"/>
<rect x="48.1" y="872.00" width="8.9" height="3.05" fill="#151515"/>
<rect x="48.1" y="875.00" width="8.9" height="3.05" fill="#0e0e0e"/>
<rect x="48.1" y="878.00" width="8.9" height="3.05" fill="#1e1e1e"/>
<rect x="48.1" y="881.00" width="8.9" height="3.05" fill="#101010"/>
<rect x="48.1" y="884.00" width="8.9" height="3.05" fill="#171717"/>
<rect x="48.1" y="887.00" width="8.9" height="3.05" fill="#161616"/>
<rect x="48.1" y="890.00" width="8.9" height="3.05" fill="#404040"/>
<rect x="48.1" y="893.00" width="8.9" height="3.05" fill="#212121"/>
<rect x="48.1" y="896.00" width="8.9" height="2.05" fill="#383838"/>
</g>
<path d="M38.25 673V898M47.65 673V898" stroke="#e8f6fa" stroke-width="0.9"/>
<path d="M21.8 674.9H10.4V714.3H15.4M20.8 682.4H15.4V746.7H18.4M21.3 700.2H18.4V792H23.1M22.3 780V897" stroke="#7a7a7a" stroke-width="0.8" fill="none"/>
<path d="M21.4 674H28.8V897.5H23.8L24.2 850L24.8 800L25.2 760L25.8 735L25.4 716L22.4 711L21.6 700Z" fill="#151515"/>
<path d="M26.4 862.2h0.4v2.5h-0.4zM26.0 846.7h0.5v1.2h-0.5zM26.4 852.5h1.4v2.5h-1.4zM25.5 801.8h0.8v2.2h-0.8zM26.3 787.9h0.8v2.1h-0.8zM25.8 776.3h1.6v1.5h-1.6zM26.6 765.0h1.0v2.4h-1.0zM25.2 879.4h1.3v2.3h-1.3zM26.5 770.5h1.2v2.0h-1.2zM26.5 751.6h1.3v1.4h-1.3zM22.4 688.4h1.2v2.5h-1.2zM26.8 717.6h0.7v2.1h-0.7zM26.0 857.9h0.8v2.2h-0.8zM26.5 852.9h0.8v2.1h-0.8zM25.1 892.8h0.8v1.0h-0.8zM25.9 849.9h1.1v1.3h-1.1zM26.2 746.8h1.4v0.6h-1.4zM26.7 856.6h1.3v2.4h-1.3zM25.7 811.1h0.8v1.3h-0.8zM27.0 851.2h0.9v0.6h-0.9zM25.0 704.9h1.6v1.9h-1.6zM26.2 714.3h0.4v0.9h-0.4zM25.6 867.3h1.3v0.9h-1.3zM25.2 778.3h1.5v0.7h-1.5zM25.3 806.9h1.4v0.6h-1.4zM26.8 806.3h0.9v1.7h-0.9zM23.0 690.8h1.4v2.1h-1.4zM26.7 719.9h1.1v2.0h-1.1zM26.6 712.1h1.4v1.0h-1.4zM26.2 888.7h1.0v0.9h-1.0zM24.0 693.7h1.2v1.0h-1.2zM26.8 852.8h1.0v1.2h-1.0zM25.8 758.5h1.2v2.2h-1.2zM27.0 721.3h1.4v2.4h-1.4zM26.7 762.3h1.6v1.2h-1.6zM26.3 780.7h0.8v1.7h-0.8zM25.3 878.2h1.2v1.7h-1.2zM26.7 741.1h1.5v1.6h-1.5zM26.6 836.3h1.6v1.5h-1.6zM26.0 811.2h0.8v2.4h-0.8zM22.0 697.7h1.3v1.9h-1.3zM25.9 764.6h1.4v2.1h-1.4zM25.2 849.3h0.9v0.8h-0.9zM26.1 864.0h1.5v1.1h-1.5zM25.7 811.0h0.4v1.1h-0.4zM25.2 807.3h0.7v1.4h-0.7zM26.0 745.2h1.3v1.5h-1.3zM25.6 766.6h0.7v2.0h-0.7zM25.9 772.7h0.6v1.2h-0.6zM25.2 807.2h1.4v0.9h-1.4zM25.4 859.5h1.1v2.3h-1.1zM26.2 768.7h1.5v2.2h-1.5zM26.4 779.8h0.7v1.3h-0.7zM26.0 761.1h0.6v2.2h-0.6zM25.6 696.6h0.6v2.4h-0.6zM26.3 851.9h0.5v0.7h-0.5zM26.2 725.2h0.7v1.2h-0.7zM25.6 771.2h0.5v1.2h-0.5zM23.2 697.1h1.2v1.6h-1.2zM26.4 737.8h0.5v0.7h-0.5zM26.3 753.3h1.2v1.9h-1.2zM26.1 828.8h1.2v1.6h-1.2zM25.1 893.9h0.6v2.0h-0.6zM23.3 677.1h0.8v2.2h-0.8zM26.7 723.8h0.6v1.5h-0.6zM25.4 799.5h0.6v2.0h-0.6zM26.9 869.6h1.3v2.2h-1.3zM25.1 772.1h0.9v2.4h-0.9zM24.6 684.9h1.1v1.9h-1.1zM23.5 682.3h1.1v2.2h-1.1zM26.7 689.5h1.0v2.4h-1.0zM26.7 850.5h1.6v1.0h-1.6zM26.7 736.3h0.5v0.7h-0.5zM26.9 802.7h1.0v2.3h-1.0zM25.8 821.1h0.8v2.5h-0.8zM26.3 710.0h1.5v2.2h-1.5zM25.5 828.7h1.1v1.6h-1.1zM25.8 740.4h1.2v0.9h-1.2zM25.4 775.0h1.3v1.0h-1.3zM24.2 690.9h1.3v2.1h-1.3zM26.3 728.1h0.4v2.5h-0.4zM25.1 700.0h0.8v1.9h-0.8zM25.6 839.8h0.6v2.4h-0.6zM25.4 763.8h1.0v0.8h-1.0zM25.1 853.8h1.2v1.4h-1.2zM26.5 809.5h1.5v2.0h-1.5zM25.1 881.6h1.3v2.1h-1.3zM25.1 685.2h1.3v0.8h-1.3zM26.2 768.2h0.6v0.7h-0.6zM26.6 869.0h1.2v0.6h-1.2zM26.7 799.2h1.2v1.0h-1.2zM22.1 676.3h1.4v1.3h-1.4zM25.9 878.2h0.8v2.2h-0.8zM26.2 883.4h1.5v1.8h-1.5zM26.6 771.8h1.6v2.0h-1.6zM22.5 702.2h0.7v0.7h-0.7zM26.9 758.6h1.5v0.7h-1.5zM26.4 774.7h1.1v0.8h-1.1zM25.8 790.8h0.7v1.7h-0.7zM26.5 774.6h0.5v1.4h-0.5zM25.1 775.6h1.1v1.9h-1.1zM26.1 746.8h1.4v1.1h-1.4zM24.0 691.5h1.1v1.9h-1.1zM25.6 702.9h1.3v0.8h-1.3zM26.6 851.4h1.2v1.9h-1.2zM26.4 713.3h0.9v1.8h-0.9zM26.6 781.3h0.7v2.5h-0.7zM26.1 759.7h0.6v2.1h-0.6zM26.6 749.2h1.1v2.2h-1.1zM25.8 820.6h0.5v1.5h-0.5zM26.9 890.0h0.5v0.7h-0.5zM25.8 760.1h1.6v2.0h-1.6zM26.6 826.1h0.5v0.8h-0.5zM26.2 773.5h0.5v2.2h-0.5zM25.5 693.6h0.9v2.5h-0.9zM24.6 705.5h1.2v1.2h-1.2zM25.0 770.1h1.5v0.8h-1.5zM26.1 884.0h0.4v2.0h-0.4zM26.7 814.0h0.7v1.6h-0.7zM26.4 819.5h1.6v0.8h-1.6zM26.2 724.0h1.2v2.2h-1.2zM26.1 787.8h1.5v0.8h-1.5zM26.7 748.4h1.1v2.1h-1.1zM25.5 769.9h1.3v2.5h-1.3zM26.9 798.2h1.1v0.7h-1.1zM25.4 703.0h1.2v2.4h-1.2zM26.7 728.5h0.9v2.0h-0.9zM25.6 786.1h1.3v2.3h-1.3zM25.2 855.6h1.4v2.5h-1.4zM26.3 749.3h0.5v0.7h-0.5zM26.7 835.7h1.5v0.7h-1.5zM25.4 872.6h1.1v1.6h-1.1zM26.1 746.2h0.6v1.0h-0.6zM26.9 755.8h0.5v0.6h-0.5zM25.7 841.2h1.3v1.0h-1.3zM26.8 831.0h0.5v1.8h-0.5zM26.9 706.8h0.8v1.0h-0.8zM25.9 714.7h1.6v2.4h-1.6zM26.7 800.6h0.7v2.3h-0.7zM25.2 770.4h1.0v0.9h-1.0z" fill="#fff" fill-opacity="0.75"/>
<text x="434.2" y="651.7" font-size="9.9" textLength="41" lengthAdjust="spacingAndGlyphs" fill="#231f20">Outcome</text>
<text x="434.2" y="661.3000000000001" font-size="9.9" textLength="26" lengthAdjust="spacingAndGlyphs" fill="#231f20">Death</text>
<text x="434.2" y="670.9000000000001" font-size="9.9" textLength="22.5" lengthAdjust="spacingAndGlyphs" fill="#231f20">CIMP</text>
<text x="439.4" y="698.8" font-size="9.7" fill="#231f20">RNA expression</text>
<linearGradient id="gD" x1="0" y1="0" x2="0" y2="1"><stop offset="0.0" stop-color="#960b22"/><stop offset="0.25" stop-color="#ad1429"/><stop offset="0.35" stop-color="#cf3528"/><stop offset="0.43999999999999995" stop-color="#ee7d2a"/><stop offset="0.52" stop-color="#f7b44c"/><stop offset="0.6" stop-color="#fbe09a"/><stop offset="0.6799999999999999" stop-color="#e6eecb"/><stop offset="0.75" stop-color="#6cc4c4"/><stop offset="0.8200000000000001" stop-color="#22a0b8"/><stop offset="0.88" stop-color="#2585bb"/><stop offset="0.95" stop-color="#235bab"/><stop offset="1" stop-color="#2a4a9c"/></linearGradient>
<rect x="439.7" y="706.9" width="7.8" height="39.3" fill="url(#gD)"/>
<text x="450.2" y="712.5" font-size="9.7" fill="#231f20">20</text>
<text x="450.2" y="724.05" font-size="9.7" fill="#231f20">15</text>
<text x="450.2" y="735.6" font-size="9.7" fill="#231f20">10</text>
<text x="450.2" y="747.15" font-size="9.7" fill="#231f20">5</text>
<text x="439.2" y="762.4" font-size="9.7" fill="#231f20">Outcome</text>
<rect x="439.2" y="768.60" width="6.7" height="6.7" fill="#1b93b8"/>
<text x="450.8" y="774.8000000000001" font-size="9.7" fill="#231f20">CR</text>
<rect x="439.2" y="779.00" width="6.7" height="6.7" fill="#5f9b2f"/>
<text x="450.8" y="785.2" font-size="9.7" fill="#231f20">DCR</text>
<rect x="439.2" y="789.40" width="6.7" height="6.7" fill="#a3a3ad"/>
<text x="450.8" y="795.6" font-size="9.7" fill="#231f20">IF</text>
<rect x="439.2" y="799.80" width="6.7" height="6.7" fill="#cc2a0c"/>
<text x="450.8" y="806.0000000000001" font-size="9.7" fill="#231f20">Relapse</text>
<text x="439.2" y="820.7" font-size="9.7" fill="#231f20">Death</text>
<rect x="439.2" y="827.10" width="6.7" height="6.7" fill="#34b6c8"/>
<text x="450.8" y="833.3000000000001" font-size="9.7" fill="#231f20">alive</text>
<rect x="439.2" y="837.30" width="6.7" height="6.7" fill="#e08cc8"/>
<text x="450.8" y="843.5000000000001" font-size="9.7" fill="#231f20">deceased</text>
<text x="439.2" y="858.0" font-size="9.7" fill="#231f20">CIMP</text>
<rect x="439.2" y="864.10" width="6.7" height="6.7" fill="#1d70a9"/>
<text x="450.8" y="870.3000000000001" font-size="9.7" fill="#231f20">CIMP low</text>
<rect x="439.2" y="874.60" width="6.7" height="6.7" fill="#c4112f"/>
<text x="450.8" y="880.8000000000001" font-size="9.7" fill="#231f20">CIMP high</text>
<rect x="0.5" y="0.5" width="519" height="908" fill="none" stroke="#1e1e1e" stroke-width="1.2"/>
</svg></body></html>
